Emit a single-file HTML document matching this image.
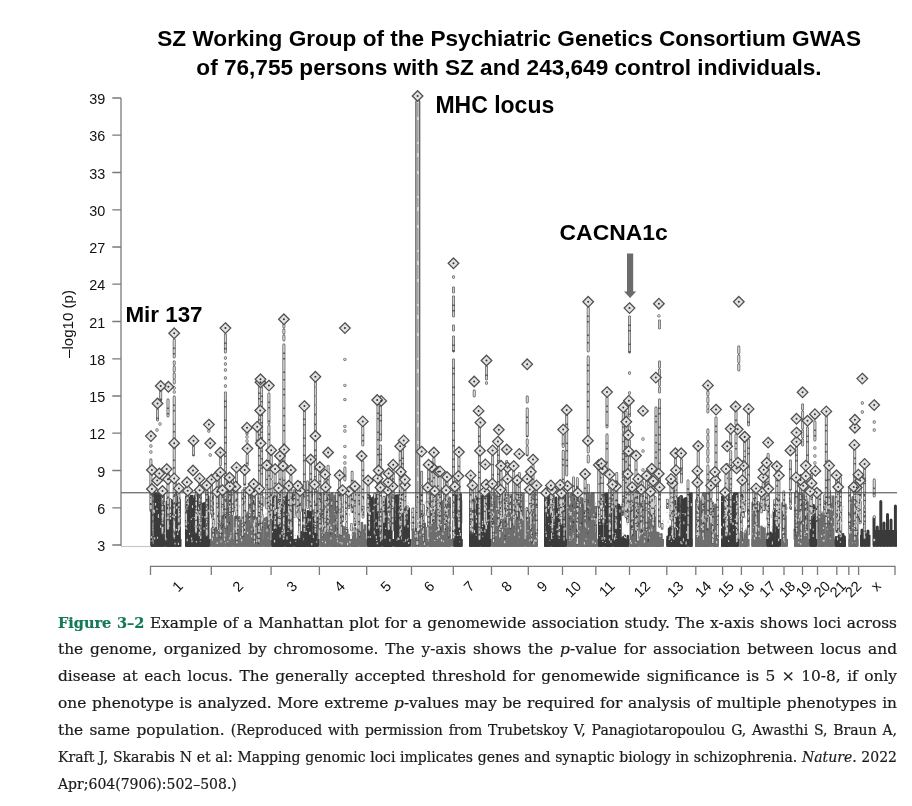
<!DOCTYPE html>
<html lang="en"><head><meta charset="utf-8"><title>Figure 3–2 Manhattan plot</title>
<style>
html,body{margin:0;padding:0;background:#fff}
body{width:912px;height:806px;position:relative;overflow:hidden}
.cap{will-change:transform;position:absolute;left:58px;top:609px;width:839px;font-family:"DejaVu Serif","Liberation Serif",serif;font-size:15.4px;color:#1a1a1a;-webkit-text-stroke:0.2px #1a1a1a}
.cap .l{height:27px;line-height:27px;white-space:nowrap;text-align:justify;text-align-last:justify}
.cap .s{font-size:14px}
.cap .last{text-align:left;text-align-last:left}
.cap b{color:#127a55;font-size:14.5px;-webkit-text-stroke:0.2px #127a55}
</style></head><body>
<svg width="912" height="806" viewBox="0 0 912 806" style="position:absolute;left:0;top:0;will-change:transform">
<path d="M151.7 494.7V545.6M153.2 502.9V545.6M157.4 496.1V545.6M161.9 493.7V545.6M166.9 501.9V545.6M168.4 511V545.6M169.9 501.8V545.6M171.4 500.4V545.6M172.9 501.8V545.6M178.1 497.4V545.6M179.6 500V545.6" stroke="#3a3a3a" stroke-width="2.6" stroke-linecap="round" fill="none"/>
<path d="M150.4 539H181.5V546.8H150.4Z" fill="#3a3a3a"/>
<path d="M186.3 497V545.6M187.8 495.4V545.6M189.3 498.6V545.6M190.8 496V545.6M193.8 498.9V545.6M195.4 495.6V545.6M196.9 493.5V545.6M200.1 506.2V545.6M201.6 504.8V545.6M203.1 503.7V545.6M204.6 503.3V545.6M206.7 500.7V545.6" stroke="#3a3a3a" stroke-width="2.6" stroke-linecap="round" fill="none"/>
<path d="M185 539H210.8V546.8H185Z" fill="#3a3a3a"/>
<path d="M212.1 528.9V545.6M213.6 527.7V545.6M215.1 528.3V545.6M218.1 531.1V545.6M220.3 498.8V545.6M221.8 497V545.6M225.9 498V545.6M227.4 503.8V545.6M230.4 510.1V545.6M231.9 497.1V545.6M234.8 517.4V545.6M236.3 520.5V545.6M237.8 518.5V545.6M239.3 517.4V545.6M240.8 521V545.6M242.3 520.7V545.6M244.5 515.6V545.6M247.5 512.6V545.6M250.7 495.1V545.6M253.7 495.8V545.6M254.8 518.8V545.6M256.3 518V545.6M257.8 518.3V545.6M259.3 518.8V545.6M260.8 520.9V545.6M262.3 515.1V545.6M265 518.8V545.6M266.5 517.7V545.6M268 519.7V545.6" stroke="#6e6e6e" stroke-width="2.6" stroke-linecap="round" fill="none"/>
<path d="M210.8 539H271.3V546.8H210.8Z" fill="#6e6e6e"/>
<path d="M272.6 498.3V545.6M275.6 499.4V545.6M278.9 507.6V545.6M280.4 506V545.6M281.9 505V545.6M283.4 506.2V545.6M292.3 494.3V545.6M296.9 540V545.6M298.4 536.1V545.6M299.9 534.5V545.6M301.4 532.4V545.6M302.9 532.3V545.6M307.9 511.3V545.6M312.4 510.3V545.6M312.8 516.4V545.6M314.3 526.5V545.6M317.3 517.8V545.6" stroke="#3a3a3a" stroke-width="2.6" stroke-linecap="round" fill="none"/>
<path d="M271.3 539H319.6V546.8H271.3Z" fill="#3a3a3a"/>
<path d="M322.4 506.3V545.6M323.9 493.5V545.6M326.2 501.5V545.6M327.7 493.5V545.6M333 497.8V545.6M334.5 495.8V545.6M336 498.2V545.6M338.5 536.9V545.6M340 535.1V545.6M341.5 536.3V545.6M342.8 526.9V545.6M345.8 529V545.6M347.3 529.9V545.6M348.8 535.2V545.6M351.8 540V545.6M353.3 532.9V545.6M354.8 533.2V545.6M356.3 539.6V545.6M360.5 533.1V545.6M362 523V545.6M363.5 530.3V545.6M365 525.6V545.6" stroke="#6e6e6e" stroke-width="2.6" stroke-linecap="round" fill="none"/>
<path d="M319.6 539H366.8V546.8H319.6Z" fill="#6e6e6e"/>
<path d="M368.1 496.3V545.6M369.6 496V545.6M371.1 499.1V545.6M372.6 498.1V545.6M374.1 496.4V545.6M377.2 494.8V545.6M378.7 493.5V545.6M383.8 510.8V545.6M385.3 499.7V545.6M386.8 496.2V545.6M388.3 498.3V545.6M389.8 499.6V545.6M391.3 499.2V545.6M395.3 495.8V545.6M398.3 495.5V545.6M401.3 495.4V545.6M402.8 495.2V545.6M404.3 494.7V545.6M405.7 509.3V545.6M407.2 510.1V545.6" stroke="#3a3a3a" stroke-width="2.6" stroke-linecap="round" fill="none"/>
<path d="M366.8 539H411.6V546.8H366.8Z" fill="#3a3a3a"/>
<path d="M414.4 532.2V545.6M415.9 528.8V545.6M418.9 511.5V545.6M420.4 514.5V545.6M423.2 525.6V545.6M424.7 523.7V545.6M429.6 494.8V545.6M431.1 493.7V545.6M432.6 493.5V545.6M434.1 494.5V545.6M435.6 496.3V545.6M436.6 500.4V545.6M438.1 503.5V545.6M441.1 501.9V545.6M444.1 500.1V545.6M445.2 498.4V545.6M446.7 502.4V545.6M448.2 499.4V545.6" stroke="#6e6e6e" stroke-width="2.6" stroke-linecap="round" fill="none"/>
<path d="M411.6 539H453.3V546.8H411.6Z" fill="#6e6e6e"/>
<path d="M454.6 494.2V545.6M457.6 493.6V545.6M459.1 495.6V545.6" stroke="#3a3a3a" stroke-width="2.6" stroke-linecap="round" fill="none"/>
<path d="M453.3 539H462.8V546.8H453.3Z" fill="#3a3a3a"/>
<path d="M475.8 500.4V545.6M478.8 502V545.6M484.9 493.9V545.6M486.4 494.1V545.6M487.9 493.6V545.6M489.4 494.3V545.6" stroke="#3a3a3a" stroke-width="2.6" stroke-linecap="round" fill="none"/>
<path d="M469 539H491.7V546.8H469Z" fill="#3a3a3a"/>
<path d="M493 494.7V545.6M494.5 493.5V545.6M499 493.6V545.6M500.5 495.9V545.6M504.2 520.1V545.6M507.2 528.3V545.6M508.5 495.3V545.6M510 498V545.6M511.5 495V545.6M513 504.1V545.6M515.9 501V545.6M518.9 496.9V545.6M520.4 496.8V545.6M521.9 498.5V545.6M526.8 508.3V545.6M528.3 520.6V545.6M531.3 508.8V545.6M533.1 493.5V545.6M534.6 493.5V545.6" stroke="#6e6e6e" stroke-width="2.6" stroke-linecap="round" fill="none"/>
<path d="M491.7 539H538V546.8H491.7Z" fill="#6e6e6e"/>
<path d="M545.3 497V545.6M549.8 495.6V545.6M553.1 497V545.6M554.6 498.7V545.6M556.1 497.9V545.6M557.6 509.3V545.6M559.2 496.1V545.6M560.7 494.2V545.6M563.7 498.4V545.6M565.2 494.6V545.6" stroke="#3a3a3a" stroke-width="2.6" stroke-linecap="round" fill="none"/>
<path d="M544 539H567V546.8H544Z" fill="#3a3a3a"/>
<path d="M568.3 493.5V545.6M571.3 493.9V545.6M572.8 493.5V545.6M576.3 502V545.6M577.8 499.8V545.6M582.3 499.1V545.6M583.8 505.4V545.6M585.9 496.1V545.6M590.4 495.5V545.6M591.9 493.7V545.6M593.4 493.5V545.6M595.9 507.1V545.6" stroke="#6e6e6e" stroke-width="2.6" stroke-linecap="round" fill="none"/>
<path d="M567 539H598V546.8H567Z" fill="#6e6e6e"/>
<path d="M599.3 500.1V545.6M600.8 498.7V545.6M602.3 497.6V545.6M605.2 494.3V545.6M614.4 509.5V545.6M618.9 505V545.6M620.4 507.3V545.6M621.8 539.1V545.6M624.8 535.8V545.6" stroke="#3a3a3a" stroke-width="2.6" stroke-linecap="round" fill="none"/>
<path d="M598 539H629.5V546.8H598Z" fill="#3a3a3a"/>
<path d="M630.8 498.5V545.6M632.3 497.8V545.6M633.8 505.6V545.6M635.3 498.3V545.6M636.8 496.2V545.6M638.3 495.7V545.6M641.1 498.3V545.6M642.6 502.6V545.6M644.1 501.1V545.6M645.6 508.6V545.6M647.1 503.1V545.6M647.7 527.4V545.6M652.2 524.6V545.6M655.2 517V545.6M656.9 532.7V545.6M658.4 533V545.6M661.4 534.3V545.6" stroke="#6e6e6e" stroke-width="2.6" stroke-linecap="round" fill="none"/>
<path d="M629.5 539H664V546.8H629.5Z" fill="#6e6e6e"/>
<path d="M669.1 528.8V545.6M670.6 526.9V545.6M672.1 535.9V545.6M675.1 527.6V545.6M676.1 495.5V545.6M679.1 498.1V545.6M680.6 497V545.6M683.1 500V545.6M684.6 498.8V545.6M689.9 493.5V545.6" stroke="#3a3a3a" stroke-width="2.6" stroke-linecap="round" fill="none"/>
<path d="M666.3 539H692.6V546.8H666.3Z" fill="#3a3a3a"/>
<path d="M697.8 500.9V545.6M699.3 498.5V545.6M700.8 502.1V545.6M702.3 500.6V545.6M703.1 493.5V545.6M704.6 493.5V545.6M706.1 493.7V545.6M707.6 494.2V545.6M709.1 493.5V545.6M710.6 495.4V545.6M713.9 508.1V545.6M715.4 504.9V545.6M716.9 505.9V545.6" stroke="#6e6e6e" stroke-width="2.6" stroke-linecap="round" fill="none"/>
<path d="M695 539H719V546.8H695Z" fill="#6e6e6e"/>
<path d="M722.3 496.8V545.6M725.3 497V545.6M727.6 493.5V545.6M729.1 493.5V545.6M734.3 493.6V545.6M735.8 493.5V545.6M737.3 493.5V545.6" stroke="#3a3a3a" stroke-width="2.6" stroke-linecap="round" fill="none"/>
<path d="M721 539H739.5V546.8H721Z" fill="#3a3a3a"/>
<path d="M742.3 533.1V545.6M743.8 540V545.6" stroke="#6e6e6e" stroke-width="2.6" stroke-linecap="round" fill="none"/>
<path d="M739.5 539H749.6V546.8H739.5Z" fill="#6e6e6e"/>
<path d="M752.7 502.9V545.6M754.2 506.5V545.6M755.7 503.5V545.6M757.2 502.3V545.6M758.7 503.5V545.6M761.5 526.8V545.6M764.5 528V545.6" stroke="#6e6e6e" stroke-width="2.6" stroke-linecap="round" fill="none"/>
<path d="M751.4 539H766.3V546.8H751.4Z" fill="#6e6e6e"/>
<path d="M767.6 533.7V545.6M769.1 533.1V545.6M770.6 532.8V545.6M772.1 534.2V545.6M775.4 510V545.6M776.9 507.9V545.6M778.4 509.5V545.6" stroke="#3a3a3a" stroke-width="2.6" stroke-linecap="round" fill="none"/>
<path d="M766.3 539H781.2V546.8H766.3Z" fill="#3a3a3a"/>
<path d="M782.5 503.4V545.6M784 505.1V545.6M785.5 504.7V545.6" stroke="#6e6e6e" stroke-width="2.6" stroke-linecap="round" fill="none"/>
<path d="M781.2 539H788V546.8H781.2Z" fill="#6e6e6e"/>
<path d="M796.8 493.5V545.6M798.3 493.5V545.6M799.8 493.5V545.6M801.3 493.5V545.6M802.9 494.2V545.6M805.9 498.3V545.6M807.4 502.3V545.6" stroke="#6e6e6e" stroke-width="2.6" stroke-linecap="round" fill="none"/>
<path d="M794 539H809V546.8H794Z" fill="#6e6e6e"/>
<path d="M812.1 513.9V545.6M813.6 505.2V545.6" stroke="#3a3a3a" stroke-width="2.6" stroke-linecap="round" fill="none"/>
<path d="M809.3 539H817.2V546.8H809.3Z" fill="#3a3a3a"/>
<path d="M818.5 515.1V545.6M821.5 512.6V545.6M823 516V545.6M830.2 495.5V545.6M831.7 504.5V545.6M833.2 496.6V545.6" stroke="#6e6e6e" stroke-width="2.6" stroke-linecap="round" fill="none"/>
<path d="M817.2 539H834.7V546.8H817.2Z" fill="#6e6e6e"/>
<path d="M836 537.4V545.6M839 535.3V545.6M840.5 535.6V545.6M842 538V545.6M843.1 534.3V545.6M844.6 536.8V545.6" stroke="#3a3a3a" stroke-width="2.6" stroke-linecap="round" fill="none"/>
<path d="M834.7 539H846V546.8H834.7Z" fill="#3a3a3a"/>
<path d="M849.7 497.7V545.6M851.2 500.6V545.6M852.7 497.4V545.6M855.7 496.4V545.6" stroke="#6e6e6e" stroke-width="2.6" stroke-linecap="round" fill="none"/>
<path d="M848.4 539H858.5V546.8H848.4Z" fill="#6e6e6e"/>
<path d="M874 518V545.3M877.3 527V545.3M880.8 501.5V545.3M884 523V545.3M887.5 514.5V545.3M891 520V545.3M895.4 506V545.3M862 530V545.3M865 534V545.3M868 531V545.3" stroke="#3a3a3a" stroke-width="3" stroke-linecap="round" fill="none"/>
<path d="M860 535H870.5V546.8H860ZM873 530H897V546.8H873Z" fill="#3a3a3a"/>
<path d="M153.3 487.7V541.6M153.6 520.1V543.5M159.1 492V512.7M163.6 502.2V538.3M170.3 499.7V518.7M175.6 479.6V534.7M175.9 511.4V536.6M186.2 499V526.2M191.9 498.1V534.1M196.3 492.9V530.7M195.9 512V532.6M200.5 489.4V538.7M207.2 491.3V524.9M212.7 496.1V517.8M213.2 519.1V536.1M218.8 479.9V525.3M222.4 486.4V537M222.9 508.6V536.1M228.5 478V528.9M232.6 476.8V514.4M236.9 490.7V543M242.8 490.8V533.6M242.5 522.8V535.9M249.7 491.8V527.1M254.4 490.1V543.7M258.9 488.8V542.2M263 497.5V505.3M269.5 490.9V523.2M272.8 509.1V519.6M279 488.2V518.8M283.8 477.6V536.1M283.6 509.7V538.7M287.8 495.1V543.2M294.5 490.5V516.5M299.9 482.3V509.9M299.4 511.3V538.6M303.7 495.3V531.1M303.2 526.7V540M307.6 481.9V507.4M311.5 483.5V535.1M316.5 490.8V542.3M322.2 503.8V535.2M322.1 507.7V517M326.4 489.2V520.5M326.6 521V529.3M330.9 498.9V507.4M330.5 512.6V534M336.7 493.2V535.5M336.5 512.3V527M341.1 509.3V534.6M346.3 494.6V531.2M352.1 472.2V511.5M351.6 524.3V530M358.9 486.9V536.9M363 506.5V517.2M369.3 507V528.1M374.7 494V534.6M379.3 503.9V527.7M383.9 497.2V522.1M389.7 476.9V526.2M396.2 503.8V519.5M401 491V539M400.9 509.7V525.9M407.5 506.8V521.3M412.8 508.9V530.1M417.1 496V544.9M423.2 507.1V542.3M423.5 505.7V514.9M428.9 489.4V516.5M434.3 487.1V521.5M440.5 488V529.7M440 509.8V532.3M444.7 479.9V528.7M449.4 500.2V510M449.1 514.7V536.6M456.1 481.7V529.1M460.9 500.7V523M470.9 478.9V511.8M471 518.6V539.2M476.2 487.9V519.4M476.6 516.9V524.8M482.3 500V532.2M486.2 495.5V528.5M493.5 488.5V541.4M499.9 496.1V537.2M505.2 494.8V541.6M510.2 495.8V512M510.4 520.2V527.8M515.2 484.2V533.3M520.9 493V518.4M527.4 509.5V518.9M531.6 496.5V519.9M531.6 507.2V542.2M546.4 497.6V531.5M553.5 495.7V521.5M559.4 489.5V511.9M559.2 522.7V538M563.8 492.2V540M569.6 497.9V543.5M573.5 477.8V527.3M577.3 478.5V521.1M577.4 522.9V543.6M581.2 498.2V528.6M588.3 485.1V519.9M588.7 509.6V532.7M595.4 509.1V529.1M595.3 514.2V532M599.5 505.7V521.2M603.5 496.4V523.3M603.2 506V524.4M609.8 509.5V539.2M616.8 473.3V523.9M622.9 504.2V514.2M631.7 506.5V533.6M637.7 478V540.6M637.8 521.5V531.8M642.8 482.6V531.4M642.4 526.6V533.2M648.3 477V540.5M655.1 497.3V516M662.1 524.4V528.4M667.3 500.1V507.7M674.4 488.4V537.7M674.8 514.3V537M680.7 496.7V528.6M680.2 513.9V535.7M688 480.8V524.4M697.7 489.5V524M703 496.3V536.3M712.8 503V542.5M717.5 472.4V537.4M717.6 517.5V526.7M723.9 491.8V538.8M723.7 524.8V540.6M730.5 487V532.2M736.8 495.9V541.5M736.9 510.1V540.6M741.3 487.4V540.4M748.6 510.7V533.9M753.8 490.4V510.5M758.2 502.6V510.7M768.5 497.3V532.6M774.5 500.6V531.7M774 526.6V541.1M783.8 491.8V527.6M783.6 520.3V538.3M795.3 496.7V538M795 529.5V539.1M801.2 495.5V538.5M806 499.3V535.7M806.5 520.7V531.9M811.5 474.4V510.2M819.8 490.9V532M824.7 495.5V521.6M829.5 491.3V535.1M829.4 522.7V530.1M836.6 503.5V531.5M840.5 478V536.4M840.8 506.3V536.4M849.5 487.5V524.9M849.3 527.8V532.6M854.9 496.5V543.6" stroke="#4c4c4c" stroke-width="2.7" stroke-linecap="round" fill="none"/>
<path d="M153.3 487.7V541.6M153.6 520.1V543.5M159.1 492V512.7M163.6 502.2V538.3M170.3 499.7V518.7M175.6 479.6V534.7M175.9 511.4V536.6M186.2 499V526.2M191.9 498.1V534.1M196.3 492.9V530.7M195.9 512V532.6M200.5 489.4V538.7M207.2 491.3V524.9M212.7 496.1V517.8M213.2 519.1V536.1M218.8 479.9V525.3M222.4 486.4V537M222.9 508.6V536.1M228.5 478V528.9M232.6 476.8V514.4M236.9 490.7V543M242.8 490.8V533.6M242.5 522.8V535.9M249.7 491.8V527.1M254.4 490.1V543.7M258.9 488.8V542.2M263 497.5V505.3M269.5 490.9V523.2M272.8 509.1V519.6M279 488.2V518.8M283.8 477.6V536.1M283.6 509.7V538.7M287.8 495.1V543.2M294.5 490.5V516.5M299.9 482.3V509.9M299.4 511.3V538.6M303.7 495.3V531.1M303.2 526.7V540M307.6 481.9V507.4M311.5 483.5V535.1M316.5 490.8V542.3M322.2 503.8V535.2M322.1 507.7V517M326.4 489.2V520.5M326.6 521V529.3M330.9 498.9V507.4M330.5 512.6V534M336.7 493.2V535.5M336.5 512.3V527M341.1 509.3V534.6M346.3 494.6V531.2M352.1 472.2V511.5M351.6 524.3V530M358.9 486.9V536.9M363 506.5V517.2M369.3 507V528.1M374.7 494V534.6M379.3 503.9V527.7M383.9 497.2V522.1M389.7 476.9V526.2M396.2 503.8V519.5M401 491V539M400.9 509.7V525.9M407.5 506.8V521.3M412.8 508.9V530.1M417.1 496V544.9M423.2 507.1V542.3M423.5 505.7V514.9M428.9 489.4V516.5M434.3 487.1V521.5M440.5 488V529.7M440 509.8V532.3M444.7 479.9V528.7M449.4 500.2V510M449.1 514.7V536.6M456.1 481.7V529.1M460.9 500.7V523M470.9 478.9V511.8M471 518.6V539.2M476.2 487.9V519.4M476.6 516.9V524.8M482.3 500V532.2M486.2 495.5V528.5M493.5 488.5V541.4M499.9 496.1V537.2M505.2 494.8V541.6M510.2 495.8V512M510.4 520.2V527.8M515.2 484.2V533.3M520.9 493V518.4M527.4 509.5V518.9M531.6 496.5V519.9M531.6 507.2V542.2M546.4 497.6V531.5M553.5 495.7V521.5M559.4 489.5V511.9M559.2 522.7V538M563.8 492.2V540M569.6 497.9V543.5M573.5 477.8V527.3M577.3 478.5V521.1M577.4 522.9V543.6M581.2 498.2V528.6M588.3 485.1V519.9M588.7 509.6V532.7M595.4 509.1V529.1M595.3 514.2V532M599.5 505.7V521.2M603.5 496.4V523.3M603.2 506V524.4M609.8 509.5V539.2M616.8 473.3V523.9M622.9 504.2V514.2M631.7 506.5V533.6M637.7 478V540.6M637.8 521.5V531.8M642.8 482.6V531.4M642.4 526.6V533.2M648.3 477V540.5M655.1 497.3V516M662.1 524.4V528.4M667.3 500.1V507.7M674.4 488.4V537.7M674.8 514.3V537M680.7 496.7V528.6M680.2 513.9V535.7M688 480.8V524.4M697.7 489.5V524M703 496.3V536.3M712.8 503V542.5M717.5 472.4V537.4M717.6 517.5V526.7M723.9 491.8V538.8M723.7 524.8V540.6M730.5 487V532.2M736.8 495.9V541.5M736.9 510.1V540.6M741.3 487.4V540.4M748.6 510.7V533.9M753.8 490.4V510.5M758.2 502.6V510.7M768.5 497.3V532.6M774.5 500.6V531.7M774 526.6V541.1M783.8 491.8V527.6M783.6 520.3V538.3M795.3 496.7V538M795 529.5V539.1M801.2 495.5V538.5M806 499.3V535.7M806.5 520.7V531.9M811.5 474.4V510.2M819.8 490.9V532M824.7 495.5V521.6M829.5 491.3V535.1M829.4 522.7V530.1M836.6 503.5V531.5M840.5 478V536.4M840.8 506.3V536.4M849.5 487.5V524.9M849.3 527.8V532.6M854.9 496.5V543.6" stroke="#d6d6d6" stroke-width="1.5" stroke-linecap="round" stroke-dasharray="7 2.5 3 2.5 11 2.5 5 2.5" fill="none"/>
<path d="M154.7 493.5V545.6M156.2 493.5V545.6M158.9 493.5V545.6M160.4 493.5V545.6M163.4 493.5V545.6M174.4 514.5V545.6M176.6 504.1V545.6" stroke="#3a3a3a" stroke-width="2.6" stroke-linecap="round" fill="none"/>
<path d="M192.3 496.1V545.6M198.4 496V545.6M206.1 505.6V545.6M208.2 496.5V545.6" stroke="#3a3a3a" stroke-width="2.6" stroke-linecap="round" fill="none"/>
<path d="M216.6 530.3V545.6M218.8 498.2V545.6M223.3 497.5V545.6M228.9 495.6V545.6M246 515.3V545.6M249.2 495.4V545.6M252.2 497.8V545.6M269.5 518.1V545.6" stroke="#6e6e6e" stroke-width="2.6" stroke-linecap="round" fill="none"/>
<path d="M274.1 496.8V545.6M277.1 496.9V545.6M286.3 496.9V545.6M287.8 493.5V545.6M289.3 493.5V545.6M290.8 496.5V545.6M295.4 540V545.6M303.4 509.8V545.6M304.9 510.1V545.6M306.4 518V545.6M309.4 512.1V545.6M310.9 511.5V545.6M315.8 527.6V545.6" stroke="#3a3a3a" stroke-width="2.6" stroke-linecap="round" fill="none"/>
<path d="M320.9 493.5V545.6M329.2 494.5V545.6M330.7 494.8V545.6M332.2 493.5V545.6M337.5 508.6V545.6M344.3 527.6V545.6M357.8 529.7V545.6" stroke="#6e6e6e" stroke-width="2.6" stroke-linecap="round" fill="none"/>
<path d="M375.6 499V545.6M380.2 494.9V545.6M396.8 495.6V545.6M399.8 496.2V545.6M408.7 508.2V545.6" stroke="#3a3a3a" stroke-width="2.6" stroke-linecap="round" fill="none"/>
<path d="M412.9 529.5V545.6M421.9 513.5V545.6M426.2 528.4V545.6M439.6 503.2V545.6M442.6 501.5V545.6M449.7 497.7V545.6" stroke="#6e6e6e" stroke-width="2.6" stroke-linecap="round" fill="none"/>
<path d="M456.1 495.9V545.6M460.6 494.3V545.6" stroke="#3a3a3a" stroke-width="2.6" stroke-linecap="round" fill="none"/>
<path d="M470.3 501.7V545.6M471.8 498.2V545.6M473.3 498.6V545.6M474.3 510.2V545.6M477.3 498.4V545.6M481.9 496.2V545.6M483.4 493.5V545.6" stroke="#3a3a3a" stroke-width="2.6" stroke-linecap="round" fill="none"/>
<path d="M496 495.5V545.6M497.5 495.5V545.6M502 493.5V545.6M502.7 519.3V545.6M505.7 519.2V545.6M514.5 511.3V545.6M517.4 496V545.6M523.4 493.8V545.6M529.8 510.6V545.6M536.1 503.6V545.6" stroke="#6e6e6e" stroke-width="2.6" stroke-linecap="round" fill="none"/>
<path d="M546.8 506.8V545.6M548.3 496.9V545.6M562.2 496.5V545.6" stroke="#3a3a3a" stroke-width="2.6" stroke-linecap="round" fill="none"/>
<path d="M569.8 505.8V545.6M574.3 493.5V545.6M579.3 502.5V545.6M580.8 498.7V545.6M585.3 502.7V545.6M587.4 494.4V545.6M588.9 493.5V545.6M594.4 507.5V545.6" stroke="#6e6e6e" stroke-width="2.6" stroke-linecap="round" fill="none"/>
<path d="M606.7 493.5V545.6M608.2 500.1V545.6M609.7 493.8V545.6M611.2 493.5V545.6M615.9 505V545.6M617.4 504.6V545.6M623.3 537.3V545.6M626.3 540V545.6M627.8 536V545.6" stroke="#3a3a3a" stroke-width="2.6" stroke-linecap="round" fill="none"/>
<path d="M649.2 517.9V545.6M650.7 514.1V545.6M653.7 514V545.6M659.9 535.1V545.6" stroke="#6e6e6e" stroke-width="2.6" stroke-linecap="round" fill="none"/>
<path d="M667.6 536.7V545.6M673.6 528.2V545.6M677.6 498.9V545.6M681.6 496.2V545.6M686.1 498.2V545.6M691.4 493.5V545.6" stroke="#3a3a3a" stroke-width="2.6" stroke-linecap="round" fill="none"/>
<path d="M696.3 500.4V545.6" stroke="#6e6e6e" stroke-width="2.6" stroke-linecap="round" fill="none"/>
<path d="M723.8 496.9V545.6M726.8 493.5V545.6M730.6 493.5V545.6M732.8 496.4V545.6" stroke="#3a3a3a" stroke-width="2.6" stroke-linecap="round" fill="none"/>
<path d="M740.8 533.1V545.6M745.3 531.5V545.6M746.8 529V545.6" stroke="#6e6e6e" stroke-width="2.6" stroke-linecap="round" fill="none"/>
<path d="M763 528.2V545.6" stroke="#6e6e6e" stroke-width="2.6" stroke-linecap="round" fill="none"/>
<path d="M773.9 510.9V545.6" stroke="#3a3a3a" stroke-width="2.6" stroke-linecap="round" fill="none"/>
<path d="" stroke="#6e6e6e" stroke-width="2.6" stroke-linecap="round" fill="none"/>
<path d="M795.3 493.5V545.6M804.4 496.4V545.6" stroke="#6e6e6e" stroke-width="2.6" stroke-linecap="round" fill="none"/>
<path d="M810.6 504.4V545.6M815.1 507.5V545.6" stroke="#3a3a3a" stroke-width="2.6" stroke-linecap="round" fill="none"/>
<path d="M820 515.5V545.6M824.5 514V545.6M827.2 494.5V545.6M828.7 494.1V545.6" stroke="#6e6e6e" stroke-width="2.6" stroke-linecap="round" fill="none"/>
<path d="M837.5 537.6V545.6" stroke="#3a3a3a" stroke-width="2.6" stroke-linecap="round" fill="none"/>
<path d="M854.2 498.1V545.6M857.2 499.8V545.6" stroke="#6e6e6e" stroke-width="2.6" stroke-linecap="round" fill="none"/>
<path d="M160 424h0M157 430h0M150.9 446h0M150.9 452h0M208.9 431h0M247 433.5h0M247 437h0M247 441h0M210.2 455h0M225.4 358h0M225.4 364h0M225.4 370h0M225.4 378h0M225.4 386h0M344.9 359.3h0M344.9 385.3h0M344.9 399.6h0M344.9 426.3h0M344.9 431h0M344.9 446.3h0M344.9 457h0M344.9 463h0M453.5 277h0M486.5 383h0M629.5 373h0M629.5 393h0M658.9 315.8h0M643 439h0M643 451h0M643 470h0M862.3 403h0M862.3 412h0M874.2 422h0M874.2 430h0M814.9 448h0M814.9 456h0M814.9 463h0M874.2 517h0M874.2 540h0M174.2 388h0M174.2 392h0" stroke="#606060" stroke-width="3.3" stroke-linecap="round" fill="none"/>
<path d="M160 424h0M157 430h0M150.9 446h0M150.9 452h0M208.9 431h0M247 433.5h0M247 437h0M247 441h0M210.2 455h0M225.4 358h0M225.4 364h0M225.4 370h0M225.4 378h0M225.4 386h0M344.9 359.3h0M344.9 385.3h0M344.9 399.6h0M344.9 426.3h0M344.9 431h0M344.9 446.3h0M344.9 457h0M344.9 463h0M453.5 277h0M486.5 383h0M629.5 373h0M629.5 393h0M658.9 315.8h0M643 439h0M643 451h0M643 470h0M862.3 403h0M862.3 412h0M874.2 422h0M874.2 430h0M814.9 448h0M814.9 456h0M814.9 463h0M874.2 517h0M874.2 540h0M174.2 388h0M174.2 392h0" stroke="#d6d6d6" stroke-width="1.9" stroke-linecap="round" fill="none"/>
<path d="M174.2 340V357M174.2 362V364M174.2 367V371M174.2 374V378M174.2 380V383M174.2 397V536.8M225.4 335V352M225.4 393V527.6M283.9 325V327M283.9 330V333M283.9 336V340M283.9 345V516M160.7 391V400M168 400V416M168 470V528.8M157.5 410V420M150.9 460V510.5M259.4 385V514M261.6 388V527.9M268.9 394V423M268.9 426V527.2M247.2 455V465M257.2 432V445M193.5 447V455M304.4 411V531M315.4 382V386M315.4 388V395M315.4 397V404M315.4 406V414M315.4 416V424M315.4 426V430M315.4 442V531.9M344.9 468V480M378 405V511.4M380.6 407V440M380.6 446V536.8M362.8 427V445M362.8 462V511.9M402.6 450V513.3M453.5 288V292M453.5 297V316M453.5 326V330M453.5 337V351M453.5 360V538.7M588.2 308V351M588.2 357V435M588.2 447V452M588.2 456V462M486.5 367V379M527.2 397V402M527.2 409V436M527.2 440V444M527.2 447V455M474.2 391V396M479.4 428V539.1M498.4 447V525.8M566.7 416V475M629.5 317V352M629.5 406V416M629.5 427V430M629.5 441V446M629.5 457V510.1M626 412V516.7M659.5 321V328M659.5 362V367M659.5 370V376M659.5 379V385M659.5 388V392M659.5 400V526.2M656 408V470M738.8 347V353M738.8 356V362M738.8 365V370M736 412V424M736 435V458M607 398V427M607 435V475M707.9 392V395M707.9 398V402M707.9 405V408M707.9 410V412M707.9 430V433M707.9 436V440M707.9 443V447M707.9 450V455M707.9 458V462M707.9 466V529M716 418V470M748.5 414V425M748.5 440V526.4M854.7 450V539.8M874.2 480V496M802.6 405V409M802.6 412V418M802.6 421V428M802.6 431V437M802.6 440V445M826.3 417V525.9M814.9 422V440M796.5 447V535.2M807.5 428V465M681.5 460V482M220.4 458.5V464.8M220.4 472.5V493.9M220.4 495.6V514M220.4 514V523.5M220.4 525.1V536.6M271.2 456.2V478.1M271.2 480.6V494.8M271.2 496.7V514.6M271.2 514.6V518.5M280 462V471.1M280 471.1V492.9M280 492.9V510.3M280 510.3V526M266.7 471.3V486.9M266.7 490.1V502M266.7 502V507.9M275.1 475.1V487.8M275.1 487.8V500.9M275.1 500.9V513.9M275.1 516.8V527M290.9 476V495.8M290.9 497.4V519M290.9 522.2V531.1M288.8 491.8V512.5M288.8 512.5V522M288.8 522V526.9M278.6 494.1V516.1M278.6 519.5V523.8M297.9 491.8V508.3M297.9 511.4V517.1M162.5 497V513.1M162.5 513.1V523.6M162.5 527.2V533.2M178.9 494.4V505.8M178.9 508.9V522.8M178.9 526V528.2M187 488.3V504.1M187 504.1V508.7M187.7 496.7V503.9M187.7 503.9V505.2M199.6 484.4V503M199.6 505.9V510.9M199.6 513.9V522.3M199.6 496.2V505.5M199.6 508.1V522.1M199.6 522.1V528.6M199.6 532.5V535.3M206.7 491.3V508.5M206.7 510.1V527.9M206.7 527.9V535.4M211.6 485.6V494.7M211.6 494.7V501.9M211.6 501.9V513.5M220.4 478.3V484.4M220.4 488V494.4M220.4 494.4V506.1M220.4 506.1V524.1M217.2 481.8V488.6M217.2 488.6V509.5M217.2 509.5V521.9M217.2 521.9V529.9M229.5 483.5V501.3M229.5 503.4V509.5M236.5 473.4V483.4M236.5 485.9V498.7M236.5 502.3V517M236.5 519.8V535.6M244.7 476V484.4M244.7 488.1V502.4M244.7 502.4V521.8M244.7 524.3V530.1M244.7 530.1V532.2M235.6 492.7V506.9M235.6 506.9V511.1M229.8 492.3V504M229.8 504V514.9M222.5 496.2V508.6M222.5 508.6V517.5M217.2 497.9V518.8M217.2 518.8V526.5M253.7 490V502.8M253.7 502.8V516.3M254 497.6V503.7M254 503.7V505.3M249.6 496.2V504.6M249.6 508.5V519.5M328.1 466.1V486M328.1 486V491.3M328.1 491.3V508.8M328.1 510.9V528.1M328.1 528.1V529M310.7 465.5V483.7M310.7 483.7V497.5M310.7 497.5V505.9M310.7 507.5V510.2M319.8 473V485.5M319.8 485.5V505.3M319.8 505.3V512.5M319.8 515.2V528.3M325.1 480.4V497.4M325.1 497.4V507.7M325.1 510.6V519.2M325.1 519.2V531.3M325.6 493.2V500.9M325.6 504V515.8M300.2 497V507.7M300.2 507.7V511.1M339.6 481.3V497.5M339.6 497.5V503.7M339.6 503.7V509M339.6 509V511.9M368.1 486.5V496.3M368.1 499.2V511.6M354.9 492.3V510.3M354.9 510.3V525.1M354.9 528.1V530.3M348.8 497.6V507.7M342.6 496.2V506.8M342.6 508.6V520.9M388.6 479.5V492.2M388.6 492.2V499.2M388.6 501.6V507.2M388.6 510.2V522.2M388.6 522.2V528.9M393.2 470.7V488.1M393.2 488.1V499.2M393.2 499.2V505.7M400.9 477.8V488M400.9 489.7V498.8M400.9 501V515.2M400.9 517.3V531.9M400.2 452.3V462.1M400.2 462.1V482.6M400.2 482.6V491.6M400.2 493.4V499.3M400.2 499.3V516.2M400.2 519.6V526.1M400.2 529.7V536.3M404.9 485.6V492.5M404.9 492.5V499.5M404.9 499.5V508.2M404.9 511.7V525.4M404.9 525.4V525.6M404.9 491.3V500M404.9 500V507.9M392.6 492.3V507.4M392.6 509.7V530.1M387.9 496.2V506.1M388.2 488.3V506.9M388.2 506.9V510.5M421.6 472.3V478.3M421.6 478.3V484.2M421.6 486.7V502.8M421.6 502.8V517.7M421.6 517.7V527.6M433.9 458.5V467.9M433.9 469.5V482.5M433.9 482.5V490.3M433.9 493.4V514.3M433.9 514.3V521.4M428.6 470.7V486.5M428.6 489.9V508.5M428.6 508.5V526.6M431.8 473V492.9M431.8 492.9V513.8M431.8 513.8V519.6M431.8 519.6V523.5M438.2 477.8V488.6M438.2 492.5V501.4M438.2 501.4V519.8M438.2 519.8V530.5M447 483V493.1M447 493.1V514.3M447 514.3V515.1M427.7 493.5V501M427.7 501V507.4M427.7 510.1V514.9M434.7 497V511.2M446.1 496.2V505.3M446.1 508.4V519.8M446.1 519.8V522.8M563.2 435.6V446.6M563.2 451.2V471.1M563.2 471.1V490.6M563.2 490.6V502.3M563.2 505.9V510.5M458.9 458.1V475.6M458.9 475.6V493.1M458.9 493.1V509.4M458.9 512.8V522.1M458.9 522.1V526.7M492.6 456.4V466.6M492.6 466.6V487.5M492.6 490.7V504.1M492.6 504.1V509.4M492.6 509.4V514.8M506.7 461.5V474.3M506.7 474.3V479.5M506.7 479.5V489.1M506.7 492.9V506.5M506.7 506.5V514.5M506.7 514.5V515.3M519.3 473.4V489.3M519.3 489.3V510.8M533 465.6V484.8M533 484.8V490.6M533 490.6V510.8M533 514.3V515.7M501 471.8V492.2M501 492.2V513.7M501 513.7V524.9M501 524.9V527.5M507.5 473.4V489M507.5 489V500.8M507.5 500.8V512M507.5 515.4V520.7M513.7 472.1V485.6M513.7 485.6V493.3M513.7 493.3V499.1M513.7 501.9V518.2M513.7 518.2V525.6M530.9 477.8V489.5M530.9 489.5V509M530.9 511.6V516.8M530.9 516.8V528.7M458.4 482.1V503.8M458.4 503.8V516.9M470.7 481.4V500.6M470.7 500.6V521.4M470.7 523.3V532.3M507.5 484.9V496.8M507.5 496.8V508.9M517.2 486.2V499.7M517.2 503.4V518.2M585.1 480V500.8M585.1 502.8V518.7M598.8 470.9V476M598.8 476V485M598.8 485V493.6M598.8 493.6V507.2M472.5 491.4V498.7M472.5 502.3V511.3M472.5 513.5V519.1M472.5 519.1V533.1M492.3 489.7V509.6M492.3 513.3V526.4M500.5 495.8V509.5M500.5 509.5V525M484.7 497.6V517.7M484.7 519.3V523.8M529.8 495.5V508.3M529.8 508.3V512.2M536.5 491.4V506.4M536.5 506.4V512M536.5 512V524.9M536.5 524.9V534.9M536.5 534.9V537.2M546.1 499V512.6M550.9 491.4V513M550.9 513V514.3M552.3 495.8V505.4M552.3 509.2V518.9M552.3 520.7V531.8M560.2 490.9V507.2M560.2 507.2V513.2M560.2 516V518.5M561.4 499.3V511.6M561.4 511.6V524M577.7 499V511.3M440 477.4V483.7M440 483.7V489M440 489V507.4M440 507.4V525.6M440 528.9V530.1M623.3 413.4V431M623.3 433.4V445.5M623.3 445.5V463.2M623.3 463.2V478.8M623.3 481.2V488M623.3 488V504.8M623.3 504.8V505.8M636 461.6V472.4M636 472.4V483.6M636 483.6V496.9M636 499.2V509.6M636 509.6V530.5M730.7 434.8V444.1M730.7 451.6V470.5M730.7 470.5V487.8M730.7 491.5V504M730.7 505.7V522.4M744.7 442.8V461.6M744.7 465.1V473.5M744.7 473.5V493.1M744.7 496V505.9M727.2 464.5V485.5M727.2 485.5V506.2M727.2 506.2V526.7M727.2 526.7V534.8M698.2 452V459.9M698.2 459.9V481.7M698.2 481.7V501.7M698.2 501.7V508.7M698.2 508.7V520.2M698.2 520.2V533.4M675.4 459.3V473.9M675.4 477.3V493.3M675.4 497.1V505.2M601.4 469.5V490.5M601.4 490.5V508.7M601.4 511.6V518.3M602.6 475.1V488.1M602.6 488.1V506.4M609.6 480.4V487M609.6 489.9V505.3M609.6 508.1V529.4M609.6 533.1V534.1M612.5 490.6V505.1M612.5 505.1V507.8M616 492.3V508.5M616 508.5V521.3M616 521.3V528.3M627.7 480V499.2M627.7 502.5V520M627.7 520V521.7M638.2 484.9V498.7M638.2 498.7V505.2M632.1 493.2V499.7M632.1 502V512M632.1 512V526.8M632.1 528.8V535.1M641.2 495.5V504.1M641.2 508.1V528.8M641.2 528.8V530.3M646.5 481.8V488.2M646.5 489.8V507.2M646.5 507.2V514.5M646.5 514.5V529.8M651.8 474.8V484.1M651.8 487.6V507M651.8 509.5V514.7M653.2 487V500M653.2 500V517.9M653.2 517.9V526.6M650.5 497.6V505.4M676 476.2V495.1M676 498.5V507.6M676 509.3V516.8M671 484.9V495.6M671 497.4V510.2M671 511.9V519M672.5 489.3V503.1M672.5 503.1V518.9M672.5 518.9V527.6M672.5 527.6V535.7M697.4 476.9V483.9M697.4 483.9V499.3M697.4 499.3V507.1M697.4 507.1V517M697.4 488.5V495.1M697.4 495.1V511M697.4 511V527.1M697.4 527.1V534.5M697.4 536.2V536.7M711 491.4V497.6M711 500.5V517.8M711 517.8V522.7M726 475.1V487.8M726 487.8V497.1M726 500.3V508.3M726 508.3V528.2M726 528.2V535.4M725.1 498.5V516.8M743.5 471.8V482.5M743.5 482.5V501.9M743.5 503.6V516.6M742.3 486.2V495.7M742.3 498.4V515.3M790.4 461V470.5M790.4 470.5V481.6M790.4 481.6V489.6M790.4 492.9V504.2M790.4 507.4V507.9M744.7 443V460.9M744.7 464.1V484.1M744.7 484.1V493.2M744.7 493.2V502.7M744.7 504.4V510.5M768.1 454.4V467.7M768.1 467.7V488.4M768.1 488.4V494.5M768.1 496.6V509.2M768.1 511.5V517.5M768.1 517.5V520.6M864.6 469.9V490.7M864.6 492.3V504.7M864.6 507.5V521.2M864.6 522.9V536M864.6 536V538M766.7 468.8V487.5M766.7 487.5V494.2M766.7 497.7V503.8M766.7 503.8V509.3M776.8 472.3V491.1M776.8 491.1V507M776.8 507V512.6M776.8 512.6V525.7M763.7 475.8V487M763.7 490.7V501.2M763.7 504.8V509.6M778.9 481.6V486.9M778.9 486.9V504.2M778.9 504.2V523.6M778.9 527.6V528.1M763.2 483.4V489.5M763.2 491.4V502.6M763.2 502.6V508.7M805.8 471.6V488M805.8 491.8V500.1M805.8 500.1V510.3M805.8 510.3V519.9M805.8 519.9V529.5M805.8 482.1V499.2M805.8 499.2V517.2M800.5 486V504.8M800.5 504.8V510.1M811.6 489.2V498.6M811.6 498.6V508.3M811.6 508.3V517.8M829.1 471.6V482.1M829.1 482.1V489.9M829.1 489.9V496.3M829.1 496.3V509.5M836.5 481.3V488.9M836.5 488.9V510.3M836.5 510.3V512.4M838.2 493V514.4M838.2 514.4V520.6M838.2 520.6V528.6M838.2 530.3V532M810.2 497.4V512.3M810.2 512.3V525.8M810.2 525.8V528.3M816.8 498.8V511.2M816.8 511.2V520.5M768.4 494.8V510.7M768.4 510.7V532M768.4 535.6V536.6M761.4 497.9V508.5M761.4 508.5V512M756.1 494.4V514.5M756.1 514.5V525M756.1 525V536.5M860.2 486.5V498.3M860.2 501.7V513M860.2 513V522.9M858.4 480.7V502.7M858.4 502.7V517M856.7 493.5V509M856.7 509V522M856.7 522V532.6M856.7 532.6V534.2" stroke="#555" stroke-width="2.9" stroke-linecap="round" fill="none"/>
<path d="M174.2 340V357M174.2 362V364M174.2 367V371M174.2 374V378M174.2 380V383M174.2 397V536.8M225.4 335V352M225.4 393V527.6M283.9 325V327M283.9 330V333M283.9 336V340M283.9 345V516M160.7 391V400M168 400V416M168 470V528.8M157.5 410V420M150.9 460V510.5M259.4 385V514M261.6 388V527.9M268.9 394V423M268.9 426V527.2M247.2 455V465M257.2 432V445M193.5 447V455M304.4 411V531M315.4 382V386M315.4 388V395M315.4 397V404M315.4 406V414M315.4 416V424M315.4 426V430M315.4 442V531.9M344.9 468V480M378 405V511.4M380.6 407V440M380.6 446V536.8M362.8 427V445M362.8 462V511.9M402.6 450V513.3M453.5 288V292M453.5 297V316M453.5 326V330M453.5 337V351M453.5 360V538.7M588.2 308V351M588.2 357V435M588.2 447V452M588.2 456V462M486.5 367V379M527.2 397V402M527.2 409V436M527.2 440V444M527.2 447V455M474.2 391V396M479.4 428V539.1M498.4 447V525.8M566.7 416V475M629.5 317V352M629.5 406V416M629.5 427V430M629.5 441V446M629.5 457V510.1M626 412V516.7M659.5 321V328M659.5 362V367M659.5 370V376M659.5 379V385M659.5 388V392M659.5 400V526.2M656 408V470M738.8 347V353M738.8 356V362M738.8 365V370M736 412V424M736 435V458M607 398V427M607 435V475M707.9 392V395M707.9 398V402M707.9 405V408M707.9 410V412M707.9 430V433M707.9 436V440M707.9 443V447M707.9 450V455M707.9 458V462M707.9 466V529M716 418V470M748.5 414V425M748.5 440V526.4M854.7 450V539.8M874.2 480V496M802.6 405V409M802.6 412V418M802.6 421V428M802.6 431V437M802.6 440V445M826.3 417V525.9M814.9 422V440M796.5 447V535.2M807.5 428V465M681.5 460V482M220.4 458.5V464.8M220.4 472.5V493.9M220.4 495.6V514M220.4 514V523.5M220.4 525.1V536.6M271.2 456.2V478.1M271.2 480.6V494.8M271.2 496.7V514.6M271.2 514.6V518.5M280 462V471.1M280 471.1V492.9M280 492.9V510.3M280 510.3V526M266.7 471.3V486.9M266.7 490.1V502M266.7 502V507.9M275.1 475.1V487.8M275.1 487.8V500.9M275.1 500.9V513.9M275.1 516.8V527M290.9 476V495.8M290.9 497.4V519M290.9 522.2V531.1M288.8 491.8V512.5M288.8 512.5V522M288.8 522V526.9M278.6 494.1V516.1M278.6 519.5V523.8M297.9 491.8V508.3M297.9 511.4V517.1M162.5 497V513.1M162.5 513.1V523.6M162.5 527.2V533.2M178.9 494.4V505.8M178.9 508.9V522.8M178.9 526V528.2M187 488.3V504.1M187 504.1V508.7M187.7 496.7V503.9M187.7 503.9V505.2M199.6 484.4V503M199.6 505.9V510.9M199.6 513.9V522.3M199.6 496.2V505.5M199.6 508.1V522.1M199.6 522.1V528.6M199.6 532.5V535.3M206.7 491.3V508.5M206.7 510.1V527.9M206.7 527.9V535.4M211.6 485.6V494.7M211.6 494.7V501.9M211.6 501.9V513.5M220.4 478.3V484.4M220.4 488V494.4M220.4 494.4V506.1M220.4 506.1V524.1M217.2 481.8V488.6M217.2 488.6V509.5M217.2 509.5V521.9M217.2 521.9V529.9M229.5 483.5V501.3M229.5 503.4V509.5M236.5 473.4V483.4M236.5 485.9V498.7M236.5 502.3V517M236.5 519.8V535.6M244.7 476V484.4M244.7 488.1V502.4M244.7 502.4V521.8M244.7 524.3V530.1M244.7 530.1V532.2M235.6 492.7V506.9M235.6 506.9V511.1M229.8 492.3V504M229.8 504V514.9M222.5 496.2V508.6M222.5 508.6V517.5M217.2 497.9V518.8M217.2 518.8V526.5M253.7 490V502.8M253.7 502.8V516.3M254 497.6V503.7M254 503.7V505.3M249.6 496.2V504.6M249.6 508.5V519.5M328.1 466.1V486M328.1 486V491.3M328.1 491.3V508.8M328.1 510.9V528.1M328.1 528.1V529M310.7 465.5V483.7M310.7 483.7V497.5M310.7 497.5V505.9M310.7 507.5V510.2M319.8 473V485.5M319.8 485.5V505.3M319.8 505.3V512.5M319.8 515.2V528.3M325.1 480.4V497.4M325.1 497.4V507.7M325.1 510.6V519.2M325.1 519.2V531.3M325.6 493.2V500.9M325.6 504V515.8M300.2 497V507.7M300.2 507.7V511.1M339.6 481.3V497.5M339.6 497.5V503.7M339.6 503.7V509M339.6 509V511.9M368.1 486.5V496.3M368.1 499.2V511.6M354.9 492.3V510.3M354.9 510.3V525.1M354.9 528.1V530.3M348.8 497.6V507.7M342.6 496.2V506.8M342.6 508.6V520.9M388.6 479.5V492.2M388.6 492.2V499.2M388.6 501.6V507.2M388.6 510.2V522.2M388.6 522.2V528.9M393.2 470.7V488.1M393.2 488.1V499.2M393.2 499.2V505.7M400.9 477.8V488M400.9 489.7V498.8M400.9 501V515.2M400.9 517.3V531.9M400.2 452.3V462.1M400.2 462.1V482.6M400.2 482.6V491.6M400.2 493.4V499.3M400.2 499.3V516.2M400.2 519.6V526.1M400.2 529.7V536.3M404.9 485.6V492.5M404.9 492.5V499.5M404.9 499.5V508.2M404.9 511.7V525.4M404.9 525.4V525.6M404.9 491.3V500M404.9 500V507.9M392.6 492.3V507.4M392.6 509.7V530.1M387.9 496.2V506.1M388.2 488.3V506.9M388.2 506.9V510.5M421.6 472.3V478.3M421.6 478.3V484.2M421.6 486.7V502.8M421.6 502.8V517.7M421.6 517.7V527.6M433.9 458.5V467.9M433.9 469.5V482.5M433.9 482.5V490.3M433.9 493.4V514.3M433.9 514.3V521.4M428.6 470.7V486.5M428.6 489.9V508.5M428.6 508.5V526.6M431.8 473V492.9M431.8 492.9V513.8M431.8 513.8V519.6M431.8 519.6V523.5M438.2 477.8V488.6M438.2 492.5V501.4M438.2 501.4V519.8M438.2 519.8V530.5M447 483V493.1M447 493.1V514.3M447 514.3V515.1M427.7 493.5V501M427.7 501V507.4M427.7 510.1V514.9M434.7 497V511.2M446.1 496.2V505.3M446.1 508.4V519.8M446.1 519.8V522.8M563.2 435.6V446.6M563.2 451.2V471.1M563.2 471.1V490.6M563.2 490.6V502.3M563.2 505.9V510.5M458.9 458.1V475.6M458.9 475.6V493.1M458.9 493.1V509.4M458.9 512.8V522.1M458.9 522.1V526.7M492.6 456.4V466.6M492.6 466.6V487.5M492.6 490.7V504.1M492.6 504.1V509.4M492.6 509.4V514.8M506.7 461.5V474.3M506.7 474.3V479.5M506.7 479.5V489.1M506.7 492.9V506.5M506.7 506.5V514.5M506.7 514.5V515.3M519.3 473.4V489.3M519.3 489.3V510.8M533 465.6V484.8M533 484.8V490.6M533 490.6V510.8M533 514.3V515.7M501 471.8V492.2M501 492.2V513.7M501 513.7V524.9M501 524.9V527.5M507.5 473.4V489M507.5 489V500.8M507.5 500.8V512M507.5 515.4V520.7M513.7 472.1V485.6M513.7 485.6V493.3M513.7 493.3V499.1M513.7 501.9V518.2M513.7 518.2V525.6M530.9 477.8V489.5M530.9 489.5V509M530.9 511.6V516.8M530.9 516.8V528.7M458.4 482.1V503.8M458.4 503.8V516.9M470.7 481.4V500.6M470.7 500.6V521.4M470.7 523.3V532.3M507.5 484.9V496.8M507.5 496.8V508.9M517.2 486.2V499.7M517.2 503.4V518.2M585.1 480V500.8M585.1 502.8V518.7M598.8 470.9V476M598.8 476V485M598.8 485V493.6M598.8 493.6V507.2M472.5 491.4V498.7M472.5 502.3V511.3M472.5 513.5V519.1M472.5 519.1V533.1M492.3 489.7V509.6M492.3 513.3V526.4M500.5 495.8V509.5M500.5 509.5V525M484.7 497.6V517.7M484.7 519.3V523.8M529.8 495.5V508.3M529.8 508.3V512.2M536.5 491.4V506.4M536.5 506.4V512M536.5 512V524.9M536.5 524.9V534.9M536.5 534.9V537.2M546.1 499V512.6M550.9 491.4V513M550.9 513V514.3M552.3 495.8V505.4M552.3 509.2V518.9M552.3 520.7V531.8M560.2 490.9V507.2M560.2 507.2V513.2M560.2 516V518.5M561.4 499.3V511.6M561.4 511.6V524M577.7 499V511.3M440 477.4V483.7M440 483.7V489M440 489V507.4M440 507.4V525.6M440 528.9V530.1M623.3 413.4V431M623.3 433.4V445.5M623.3 445.5V463.2M623.3 463.2V478.8M623.3 481.2V488M623.3 488V504.8M623.3 504.8V505.8M636 461.6V472.4M636 472.4V483.6M636 483.6V496.9M636 499.2V509.6M636 509.6V530.5M730.7 434.8V444.1M730.7 451.6V470.5M730.7 470.5V487.8M730.7 491.5V504M730.7 505.7V522.4M744.7 442.8V461.6M744.7 465.1V473.5M744.7 473.5V493.1M744.7 496V505.9M727.2 464.5V485.5M727.2 485.5V506.2M727.2 506.2V526.7M727.2 526.7V534.8M698.2 452V459.9M698.2 459.9V481.7M698.2 481.7V501.7M698.2 501.7V508.7M698.2 508.7V520.2M698.2 520.2V533.4M675.4 459.3V473.9M675.4 477.3V493.3M675.4 497.1V505.2M601.4 469.5V490.5M601.4 490.5V508.7M601.4 511.6V518.3M602.6 475.1V488.1M602.6 488.1V506.4M609.6 480.4V487M609.6 489.9V505.3M609.6 508.1V529.4M609.6 533.1V534.1M612.5 490.6V505.1M612.5 505.1V507.8M616 492.3V508.5M616 508.5V521.3M616 521.3V528.3M627.7 480V499.2M627.7 502.5V520M627.7 520V521.7M638.2 484.9V498.7M638.2 498.7V505.2M632.1 493.2V499.7M632.1 502V512M632.1 512V526.8M632.1 528.8V535.1M641.2 495.5V504.1M641.2 508.1V528.8M641.2 528.8V530.3M646.5 481.8V488.2M646.5 489.8V507.2M646.5 507.2V514.5M646.5 514.5V529.8M651.8 474.8V484.1M651.8 487.6V507M651.8 509.5V514.7M653.2 487V500M653.2 500V517.9M653.2 517.9V526.6M650.5 497.6V505.4M676 476.2V495.1M676 498.5V507.6M676 509.3V516.8M671 484.9V495.6M671 497.4V510.2M671 511.9V519M672.5 489.3V503.1M672.5 503.1V518.9M672.5 518.9V527.6M672.5 527.6V535.7M697.4 476.9V483.9M697.4 483.9V499.3M697.4 499.3V507.1M697.4 507.1V517M697.4 488.5V495.1M697.4 495.1V511M697.4 511V527.1M697.4 527.1V534.5M697.4 536.2V536.7M711 491.4V497.6M711 500.5V517.8M711 517.8V522.7M726 475.1V487.8M726 487.8V497.1M726 500.3V508.3M726 508.3V528.2M726 528.2V535.4M725.1 498.5V516.8M743.5 471.8V482.5M743.5 482.5V501.9M743.5 503.6V516.6M742.3 486.2V495.7M742.3 498.4V515.3M790.4 461V470.5M790.4 470.5V481.6M790.4 481.6V489.6M790.4 492.9V504.2M790.4 507.4V507.9M744.7 443V460.9M744.7 464.1V484.1M744.7 484.1V493.2M744.7 493.2V502.7M744.7 504.4V510.5M768.1 454.4V467.7M768.1 467.7V488.4M768.1 488.4V494.5M768.1 496.6V509.2M768.1 511.5V517.5M768.1 517.5V520.6M864.6 469.9V490.7M864.6 492.3V504.7M864.6 507.5V521.2M864.6 522.9V536M864.6 536V538M766.7 468.8V487.5M766.7 487.5V494.2M766.7 497.7V503.8M766.7 503.8V509.3M776.8 472.3V491.1M776.8 491.1V507M776.8 507V512.6M776.8 512.6V525.7M763.7 475.8V487M763.7 490.7V501.2M763.7 504.8V509.6M778.9 481.6V486.9M778.9 486.9V504.2M778.9 504.2V523.6M778.9 527.6V528.1M763.2 483.4V489.5M763.2 491.4V502.6M763.2 502.6V508.7M805.8 471.6V488M805.8 491.8V500.1M805.8 500.1V510.3M805.8 510.3V519.9M805.8 519.9V529.5M805.8 482.1V499.2M805.8 499.2V517.2M800.5 486V504.8M800.5 504.8V510.1M811.6 489.2V498.6M811.6 498.6V508.3M811.6 508.3V517.8M829.1 471.6V482.1M829.1 482.1V489.9M829.1 489.9V496.3M829.1 496.3V509.5M836.5 481.3V488.9M836.5 488.9V510.3M836.5 510.3V512.4M838.2 493V514.4M838.2 514.4V520.6M838.2 520.6V528.6M838.2 530.3V532M810.2 497.4V512.3M810.2 512.3V525.8M810.2 525.8V528.3M816.8 498.8V511.2M816.8 511.2V520.5M768.4 494.8V510.7M768.4 510.7V532M768.4 535.6V536.6M761.4 497.9V508.5M761.4 508.5V512M756.1 494.4V514.5M756.1 514.5V525M756.1 525V536.5M860.2 486.5V498.3M860.2 501.7V513M860.2 513V522.9M858.4 480.7V502.7M858.4 502.7V517M856.7 493.5V509M856.7 509V522M856.7 522V532.6M856.7 532.6V534.2" stroke="#cfcfcf" stroke-width="1.6" stroke-linecap="round" stroke-dasharray="7 2.5 3 2.5 11 2.5 5 2.5" fill="none"/>
<path d="M417.8 102V530" stroke="#4a4a4a" stroke-width="5" stroke-linecap="round" fill="none"/>
<path d="M417.8 102V530" stroke="#d8d8d8" stroke-width="2.8" stroke-linecap="round" fill="none"/>
<path d="M417.8 103V528" stroke="#777" stroke-width="0.8" stroke-dasharray="14 3 22 2 9 4" fill="none"/>
<path d="M174.8 494v1.9M174.5 502.3v1.1M173.7 506.5v1.7M174.9 511.6v1.8M174.1 514.2v1.8M175 519.3v1.7M173.7 530.4v0.8M224.4 494v0.7M225.3 496.4v0.6M225.9 499.7v2.2M224.5 506.1v0.6M226.1 512v1.2M225.6 516v2.5M225 526.6v0.5M283.8 494v0.6M284.5 500.4v1.7M283.8 505.7v0.5M284.6 511.5v1.4M167.1 498.1v1M167.4 506.8v2.5M167.9 515.4v1.2M150.6 497.3v1M150.5 502.9v2.1M259 494v0.6M260 502.4v1.5M259.8 511.9v1.6M262.1 497.3v0.7M262.3 502.9v2.4M262 507.2v0.6M261.6 516.5v0.8M262.4 526.2v1.8M268.4 501.7v1.3M268.3 525.9v2.1M303.8 494v2.1M314.4 494v1M314.5 500.4v2.5M316.2 503.3v2.4M316.3 510.1v0.5M316.2 530.1v0.8M378 494v1.2M377.5 497.7v1.9M378.8 502.4v0.8M380.5 510.8v2M379.8 519.6v2.3M380.3 525.2v1.7M381.3 529.2v1.8M380.4 532.4v1.8M363.5 497.3v2M362.7 510.7v0.5M402 494v1.6M402.7 509.4v0.5M453.5 494v2M453.2 500.8v2.4M453.8 505.8v0.7M454.5 509.4v1.5M454 515.3v0.5M452.5 529.9v1.8M453.6 535.4v0.6M478.7 501.7v0.9M478.5 504.3v0.8M479.7 512v0.6M480 522.7v1.6M480.1 528.6v2.5M479.3 533.5v1.7M499.1 498v2.2M497.7 507.2v0.9M498.8 511.4v2.5M498 517.7v1.8M498.6 521.5v0.7M499.1 524.7v2M629.1 494v1.5M629.2 501.9v1.3M630 504.2v1.2M626.7 494v1.6M659.9 494v1.8M659.2 498.7v1.6M658.8 508.8v2.3M659 519.9v1.5M708.8 494v0.7M708.7 510.1v1.1M707.3 517.6v2M707.3 520.2v1.4M707.2 528.3v1.6M749 498.8v1.3M748.1 506v0.7M748.2 508.6v1.9M747.7 511.3v0.9M749.2 517.5v1.2M748.5 521.2v0.5M854.9 503.8v2.3M854.6 514.5v0.5M853.8 523v2.1M855.1 527.1v0.8M826.6 496.8v1.2M827.1 506.6v0.9M826.6 512.6v1.7M795.7 505.6v1.3M796.7 513.6v0.8M797.3 521.5v2.1M796.2 523.8v0.6M795.6 529.2v1M796.5 534.3v1.5M220.6 514v2.2M220.4 525.1v1.4M221 527.2v2.3M220 535.6v2.2M272 508.9v0.9M270.7 514.3v0.6M280.2 494v2.4M279.9 496.8v1.1M280.3 499.1v1.5M279.5 503.2v1.5M280.8 505.7v2.3M280.9 510.3v1.6M280.9 512.7v1.2M279.8 516v0.7M279.6 521.9v1.2M267.2 494v1.1M267.3 501.7v2.4M267.6 502v0.9M274.5 496.7v1.1M274.5 505.2v0.6M274.3 516.8v1.1M275.3 519.2v1.8M275.9 524.6v1.9M291.3 497.4v1.6M290.1 509v1.7M291.9 518.7v0.6M287.9 499.8v1.4M288.5 503.9v1.2M288 512.5v2.1M288.9 515v0.7M289.3 519v2M289.7 521.9v0.5M289.3 522v2.2M288.8 526.3v0.6M279.5 499.3v0.9M277.8 507.3v2M279.5 516.1v0.7M279.6 523.8v2M297 499.2v0.6M297.4 506v0.9M297.4 511.4v1.4M162.6 497v1.1M162.8 500.5v1.2M163.2 502.6v0.6M161.9 504.9v1M162.9 509.5v1M161.6 513.1v1.7M161.6 518.7v1.4M161.9 523.3v2.5M163.1 532.4v1M179.6 497.5v1.3M178.8 502.8v0.9M179.7 508.9v1.8M179.5 512v0.7M179.6 514.9v0.7M186.4 504.1v2M187.1 506.6v2.5M187.6 499.2v1.7M186.9 501.4v1.8M187.7 503.9v1.9M200.3 498.2v0.6M200 501.2v2M199.3 509.7v1.8M198.6 520.7v1.6M199.5 496.2v1.7M200 508.1v2M199 510.9v2.3M199.3 513.1v1.3M198.9 518.9v0.8M199.9 525.5v1M198.7 527.6v1.3M206.2 494v1.5M206.1 505.9v2.1M206.3 510.1v0.8M205.9 519.4v1.9M206.6 524.8v2M206.8 527.9v1.5M206.6 533.3v1M211.1 500.3v1.2M211.1 505.5v1.8M212 512.8v1.4M221.1 522.5v1.9M217 496.7v1.4M216.9 502.4v1.9M217.3 507.3v0.9M218.2 521.9v1.8M216.2 526.9v2.3M218.2 529.8v0.9M229 494v0.8M230.3 498.8v2.1M230.3 501.1v1.1M229.6 503.4v2.1M228.8 507.5v0.9M236.1 519.8v0.9M245.4 497.3v1.5M243.8 501.5v2.4M245.3 510.8v0.6M245.4 521.5v1.4M244.3 524.3v1.8M244.4 528.7v2.3M236.1 498.7v0.7M234.7 506.9v1.1M230 494v2.3M230.7 506.9v1.5M228.9 509.4v0.7M222.5 496.2v1.7M221.8 506.1v1.5M223.4 514.9v0.9M216.9 506.5v0.7M217.8 515v2.2M254 494v0.7M253.6 499.9v2.2M254.4 502.8v0.8M252.9 512.5v1.9M254.2 497.6v0.9M253.2 502.2v2.5M254.8 503.7v1.8M250.3 496.2v2.5M249.3 508.5v0.7M249.1 516.4v2.1M328.2 494v2.3M327.6 496.8v2.2M327.1 499.8v2.3M328.9 502.7v1.3M327.1 514.7v1M327.9 518.1v1.8M327.9 522.2v1.7M310.1 500.3v2.4M320.2 494v2.3M319.3 497.7v1.5M320.4 500.4v2.2M319.6 505.3v0.5M320.2 508.5v1.5M318.9 511.4v0.7M320.4 515.2v1.9M320.1 517.8v2.5M325.1 499.9v1.4M325.1 505.8v1.9M325.3 521.8v1.2M324.4 526.2v1M324.6 494v0.7M300.2 502.8v1.8M339.2 494v2.4M338.8 509v1.4M368.8 494v2.2M368.2 499.2v0.5M368.2 503v1.8M368.1 507.1v1.2M368.8 510.6v1.1M355.7 494v1.5M354.8 501.3v2.4M355.3 512.4v1.2M355.2 520.7v1.1M355.2 528.1v1.6M349.2 503.4v0.9M342.9 502.1v1.3M341.9 505.7v1.5M343 510.7v0.7M342.3 515v2.1M342.3 520.5v1.7M389.4 501.6v1.6M388.7 510.2v2.5M388 518.6v2.3M388.5 522.2v1.4M393.4 497.6v1.4M392.6 501.5v0.6M401.6 494v2M400.7 504.9v2.3M400.2 508.8v0.7M400.8 517.3v0.9M400.4 526.6v2M399.7 494v1.4M400.1 498.1v1.6M400.7 502v1.9M399.6 506.8v1.8M400.7 509.6v1.5M400.1 519.6v0.6M399.5 532v0.6M400.5 535.7v1.3M405.5 496v1.4M404.6 511.7v0.7M405.8 515.2v1.8M405.2 525.2v1.5M405.1 500v1.3M405.7 506.3v1.2M392.9 494v1.7M392.1 496.2v2.2M392.9 522.2v0.8M388.7 496.2v0.8M388.1 506.9v2.3M421.5 494v2.2M421.3 499.8v1.6M420.8 502.8v2.2M421.4 512.8v2.4M422.4 517v2.2M422.4 526.7v0.6M434.7 494v0.9M433.3 508.9v1.9M434.3 512.5v1.4M434.3 520.5v0.5M428.2 494v0.5M428.4 508.5v0.9M428.5 517v0.6M428 525.3v1.7M431.7 494v1.2M431.4 501.7v0.7M431.2 505.4v2.3M432 510.6v0.7M431.7 513.1v1.4M431.3 513.8v1.9M432.6 519.6v2.2M438.5 494v1.6M438 498.9v0.8M437.8 501.4v2.2M438.2 516.8v0.5M446 494v2.5M447.3 503.6v2.5M446.7 506.9v1.8M446.9 511.6v1.3M446.2 514.3v2M428 501v1.5M427.5 506.9v2.5M427.7 510.1v1.5M433.9 497v0.9M435.5 501v1.3M433.9 506v0.8M445.7 496.2v1.4M445.7 498.7v2.2M445.4 511.4v2M446.5 519.8v2.1M562.8 494v1.2M563.8 497.1v1.6M563.6 505.9v1.4M563.2 510.4v1.6M459.2 494v1.6M459.3 497.9v2.3M459.2 516.8v1.7M493 494v0.8M492 504.1v2.3M491.6 509.4v1.1M506 494v1.3M506.9 497.1v2.4M507 514.5v2.4M518.8 494v2.1M519 499.2v2M519.3 503.8v2.4M519.6 506.3v1.2M518.5 510.4v2.3M533 494v2.1M533.2 496.2v1M533.8 498.9v1M532.5 504.9v0.9M533.4 509v1.5M532.1 514.3v1.8M500.7 497.9v0.7M501 501.3v2.3M500.8 511.2v1.1M500.2 513.7v1.5M501.5 518.9v0.5M500.4 522.9v1.5M506.9 500.2v1.6M506.7 500.8v0.7M507.8 505v2.1M507.2 508.8v2.1M506.9 515.4v0.9M513.8 504.1v1.5M513.6 518.2v0.9M512.8 523.6v1.8M530.9 494v1.2M531.3 499.6v1.5M531.1 505.5v2.2M530.2 511.6v2M530.1 523.9v2.4M531.6 527.4v1.6M457.9 496.5v1M457.6 498.7v1.5M458.2 509.3v2M458.8 513.8v1.4M470.8 494v0.9M469.9 500.6v2M469.7 514.5v1.7M470.4 518.2v1.8M470.7 520.4v1.5M470.3 523.3v1.7M469.9 527.1v1.5M469.8 529.8v1.6M507.9 494v2.2M507.8 502.4v1.4M516.4 494v0.9M517.8 503.4v1.9M516.6 514.4v1.9M585.5 499.1v0.5M584.5 512v2.3M599.5 503v0.5M472.1 502.3v0.9M473 518.3v1.1M472.7 519.1v1.7M473.1 527.8v1.1M491.4 496.6v2.2M493.1 501.2v1.2M493.1 509.3v2.5M492.6 517.7v2.5M492.6 522.8v2M500.1 495.8v1.5M500.6 520.2v2.2M484.7 497.6v1.6M485.4 502.8v1.1M530 503.2v1M529.6 508.3v1.6M536 494v1.8M536.7 503.5v2.3M536.2 506.4v1.5M535.7 514.6v1.8M535.6 520v0.9M537.3 529v1.8M535.9 533.1v1.4M536.1 534.9v0.8M545.8 499v2.1M550.6 503.9v2.2M550.3 506v2.4M551.4 512.7v1M551.2 513v2.3M552.7 498v0.7M552.7 501.2v1.6M552.4 509.2v1.7M551.4 513v2.2M551.4 520.7v2.4M551.8 530.7v1.9M560.4 494v2.2M559.7 496v1.9M560.9 516v1M560.7 506.6v1.7M561.7 511.6v1.9M562.1 523.8v1.3M577.7 499v2.3M577.5 502.9v1M440.7 502.5v2.5M439.8 505.3v1.5M439.5 515.9v1.2M439 519.5v1.3M623.2 498.5v2.2M624.2 502.1v1.1M636.2 502.1v1.7M636.5 509.6v2.4M636.4 515.2v2.1M637 525.3v1.1M635.8 530.2v1M730.9 505.7v2.3M729.7 510.8v1.1M729.8 512.8v1.6M730.9 516.9v1.2M729.9 521.1v2.4M744.2 501.4v0.9M727.8 499.7v1.4M727.4 504.9v1.6M728.2 506.2v1.6M727.8 511.6v2.2M727.9 515v1.1M727.4 525.6v1.9M727.9 532.6v1.1M697.7 494v0.7M697.7 501.7v0.7M698.1 506v2.5M698 512.6v1.4M697.7 520.2v2.1M698.6 525.6v1.3M697.5 531.5v2.2M675.6 500.2v2.3M675.6 502.8v2.1M602 494v2.2M601.5 498v2.1M602.1 500.6v1.2M600.8 502.9v1.4M601.6 515.4v1.5M603.1 494v1.2M602.9 497.3v0.9M603.4 503v2.4M609.9 499.4v0.5M610.3 519v0.5M612.6 494v2M612.1 499.5v2.3M613.1 503.8v1.5M616.8 499.4v1.6M616.4 507.5v1.7M616.1 517.6v1.8M615.4 521.3v1M626.7 502.5v0.9M627.6 508.4v2.4M627.4 511.4v1.3M626.9 517.8v1.6M637.5 496.1v2.3M637.9 502.4v1.8M633.1 494v1.4M632.8 502v0.9M632.9 504.9v1.8M633.1 521.9v2M632.2 528.8v1.2M632.7 534.1v1.9M640.7 495.5v1.2M641.5 510.4v2.2M642.1 514.4v1.4M640.6 520.3v1.6M641.3 528.8v2.2M645.7 496.5v1.6M645.9 507.2v1.3M646 509.7v1.3M651.6 494v1.4M652.1 498.8v2.5M651.5 514.5v2.4M652.8 517.9v0.9M654 520.5v1.4M650.1 501.3v2.4M676 503.3v1.5M676.7 509.3v1.1M676.8 513.2v1.4M670.6 497.4v1.2M671.3 501.9v0.7M671.6 505.4v1.1M671.9 511.9v2.3M670.3 514.8v1.6M672.9 501.5v1.9M672.5 510.6v1.3M672.5 514.6v1M673 518.6v1.6M673.2 518.9v2.5M673 525.9v0.7M671.7 527.6v2.3M698.1 494v1.9M697.6 496.8v0.9M697.2 499.3v1.9M698.1 504.2v1.1M698.1 506.6v1M696.8 497.6v2.1M698.3 501v0.6M696.9 504.2v1M696.9 511v2.4M697 516.5v1.3M698.3 519.2v1.3M696.5 524.3v0.7M697.9 527.1v0.7M697.7 530.1v2M711 500.5v1.4M710.2 507.9v1.3M711.2 511.3v1.6M710.7 513.4v1.8M726 494v0.9M725.3 500.3v2M726.1 507.4v0.9M725.7 508.3v1M725.8 516.9v1.5M725.4 519.1v0.6M726.5 524v1.3M725.1 527.6v2.3M725.1 528.2v1.9M726.2 532.1v1.3M724.4 498.5v2.2M724.3 511.2v0.8M742.8 497v1.1M743.1 501.7v1.7M744.3 503.6v1.1M743.1 508.1v1.3M743.4 511v2.1M742.6 498.4v1.5M742 506v0.6M743.2 511.8v0.7M789.7 494v1.3M789.6 497.5v1.7M790.4 499.7v0.5M790.8 502.3v0.7M791.1 507.4v2.5M745.6 499.9v1.3M744.9 504.4v1.2M768.6 504.8v2.3M767.3 517.5v2.1M864.3 494v2.5M864.7 507.5v1M864.7 510.7v2.3M864.3 516.5v1.3M863.7 522.9v2.3M863.8 527.5v0.8M865.6 533.4v2.4M767 499.9v1.1M766 503.8v2.4M776.8 494v0.6M776.3 497.5v1.4M777.8 499.9v1.8M776.5 509.9v1.6M776.8 515.7v1.4M776.1 517.9v0.6M762.7 494v1.7M763.9 498.8v0.9M763.8 504.8v0.7M764.6 508.7v2.2M779.3 498.4v1.9M779.5 504.2v1.2M779.5 508.4v1.6M779.3 517.2v1.5M779.1 523.2v0.9M763.9 494v1.2M762.9 499.7v0.9M806.3 496.3v0.9M806.3 502.3v1.7M805.2 508.4v2.3M804.9 522.3v1.3M805.7 499.2v1.9M805.8 507.9v1.9M805.5 515.8v2.2M800.6 499.7v0.7M800.8 504.8v1.2M811.2 498.6v1.5M829.1 496.3v2.2M836.3 496.5v0.6M837.5 502.1v2.5M837.4 509.4v1.4M837.2 510.3v0.9M837.7 494v1.1M837.6 501.2v1.1M837.3 514.4v2.2M839.1 519.3v2M838.2 520.6v0.9M837.5 522.8v1.5M810.6 505.5v1.6M811.1 512.3v2M810.5 522.7v1.6M816.6 507.9v2.1M817.4 516.4v1.7M816.7 520.3v1.3M768.3 494.8v1.7M768.1 498.7v1.5M767.5 506v0.7M768.6 510.6v1.7M768.3 510.7v2.2M769.4 515.2v1M768.6 522.2v0.7M768.9 535.6v0.7M760.8 497.9v1.9M761.7 503v0.7M761.6 507v1.6M756 494.4v0.9M755.5 497v1.7M755.9 502.9v2.2M755.9 506.9v2.3M756.8 510.6v2M755.8 514.5v2.1M757 517.7v0.7M756.4 523.5v2.3M860.3 494v2.3M859.4 501.7v2M860.3 513v0.6M859.4 518.2v1.9M860.8 520.8v0.5M858.8 505.2v0.6M858.8 508v0.9M857.6 513.7v2.1M856.7 494v0.6M855.9 499.6v1.9M855.8 502.9v1.2M856.4 508.6v1.1M857.3 522v2.2M855.7 527.6v1.5M857.5 532.6v1.9M153.2 494v1.7M154.2 499v1M153.3 525.4v0.8M153.1 528.5v0.5M152.4 533.7v1.6M154.2 536.5v2.3M153 520.1v1.6M152.9 535.9v1.2M153.9 539v0.9M158.8 494v0.6M158.4 497.1v1.1M158.3 501.5v1.5M162.8 502.2v1.9M164.2 505.8v1.6M162.8 525.7v1M164.4 531.1v2.1M162.8 534.8v2.3M170.3 515.8v1.5M176.6 494v1.8M176.1 522.2v1.2M176.4 527.2v1.6M174.9 533.1v2.1M175.5 511.4v2.3M176.3 518v0.5M175.9 526.7v2.2M186.6 509.9v2.2M185.6 519.9v1.7M186.1 522.3v0.7M186.8 525.8v1.9M192.5 498.1v2M191.7 501.3v2.4M192.2 512.1v2.4M192.5 523v1.4M192 531.8v1.9M197.1 494v2.4M195.3 497.8v0.6M195.7 505.2v2.4M195.9 509v1.6M196.9 513v1.1M196.5 525.6v1.4M195.9 512v1.2M195 517.6v1.1M195.5 531.9v0.5M199.5 504.9v2.3M199.7 506.9v2.2M201.1 521v2.5M199.7 523.7v2.2M201.2 528.6v0.6M199.8 534.5v0.6M207.5 494v1.1M206.8 499.4v2.3M207.3 504.4v0.8M207.8 520.5v1.7M212.8 496.1v2.4M212.7 498.2v1.2M213.3 502v1.6M212.6 507.5v2.5M213.7 512.5v2.4M212.1 515.2v2.1M213.5 519.1v0.9M212.6 523.2v0.7M214 528.8v1.9M213.9 532.8v0.6M218.9 494v1.7M219.7 520.6v1.1M223.4 525.1v0.9M221.6 533.8v0.7M223.9 508.6v1.6M222.9 511.9v0.9M223 514.7v1.9M223.1 524.3v1.6M222.4 526.4v1.5M221.9 532.1v1.4M228.6 494v0.6M229.2 500.1v1.7M227.6 503.2v0.6M228 508.1v1.6M229.4 514v0.7M229.4 521.9v2.4M232 494v1.8M231.6 497.3v0.5M232 508v1.2M237 498.5v2.1M237 504.2v1.5M237.7 518.7v0.9M237.8 524.1v1M237.6 529v1.6M243.3 494v1.3M242.2 497.4v1.7M243.7 502v2.4M243.4 516.3v1.6M243.3 521.5v1.2M242.8 526.3v0.9M242.1 522.8v1.2M250 494v1.7M249.4 512.9v0.9M254.5 494v2M253.7 502v1.4M253.6 510v1.9M254.3 518v1.9M254.3 523.9v2.4M253.5 529.3v2.4M255.1 535.1v0.7M253.4 539.5v0.6M255.2 542.5v1.5M258.6 497.4v1.6M259.3 502.2v1.5M258.6 505.2v0.8M258.8 509.4v0.5M258.6 511.9v1.2M259.3 520.8v1M258.7 524.1v2M258.3 528.8v1.1M258 531.4v1.9M258.2 541.8v2.5M270.4 500.2v1M270.5 503.2v1.4M269.7 507.2v2.1M270.1 514.1v2.1M268.8 520.4v1M273 516.1v1.1M279.7 494v1.6M278.6 498.8v1.9M279.3 500.9v1.3M278.5 513.4v0.7M283.2 499.3v2.3M284.2 502.5v2.4M283.1 505.1v2.3M283.1 508.4v1.1M284.2 513.1v1.6M284.1 516.3v0.5M284 524.3v1.9M283.7 530.3v0.9M283.6 533.6v1.7M282.7 509.7v1.7M283.4 512.3v1.3M283.6 528.7v0.8M284.1 531.6v1.9M287.1 495.1v0.5M287.1 507.9v1.1M287.4 513.8v0.7M288 518.6v0.9M288.4 523.9v0.9M287.4 538.1v1.9M294.3 494v2.2M294.1 504.2v2.1M294.4 506.8v1.1M299.5 504v1.6M299.8 519.4v2M303.5 498.2v0.6M304.6 511.8v2.1M303.6 517v1M303.9 524.8v2M303.9 529.4v0.9M302.8 533.5v0.5M303.7 535.8v1.8M303.1 539.8v2.4M307.9 499.8v0.9M312.2 494v2.3M310.7 518.4v1.9M311.8 528.6v0.9M311.9 532.9v1.3M316.3 504.8v0.9M317.5 510.1v2.1M316 515.5v0.9M317.3 521.1v1.9M315.7 524.9v1.1M316.5 533.2v0.7M316.2 538.6v1M316.3 541.2v1.9M323.1 509.3v2.4M322.2 513.1v2.4M323 531.9v2.3M322.2 510.6v1M326.6 499.4v2.4M327.3 511v1.9M331.2 498.9v1.3M331.7 504.9v1.5M330.7 532.7v2.4M337 511.1v1.4M336.1 518.7v2.1M336.9 521.1v0.7M337.5 528.3v1.9M336.2 512.3v1.5M341.1 514.5v2.5M341.8 524.8v1.9M347 497v0.6M345.4 501v0.7M345.7 509.8v1.8M346.4 512.7v2M346.7 526.9v0.8M346.9 529.1v0.7M351.3 494v2.4M352 498.2v2.3M351.4 503.6v2.1M352.7 507.2v1.1M352.6 510.7v2.2M359.3 502.8v2.4M359.1 523.4v1.4M359.8 531.1v1.1M362.3 508.6v2.4M362.8 511.2v2.2M368.6 523.5v2.4M375.1 499.4v1.6M374 507.1v0.7M374.6 519.3v2M375.2 528.7v1.7M383.7 500.9v2.3M384.4 504.4v0.8M384.9 507.5v1.5M384.3 510.3v2.1M384.4 518.6v1.7M389.1 494v1.5M388.8 497.2v1.3M388.9 500.6v2.3M389 505.7v2.4M396.3 503.8v1.4M400.5 516.2v2.3M400.8 518.7v2.2M400 524.7v2.1M401.3 530v1.8M400.2 513.1v1.2M400.9 522.2v1.3M407 510.9v1.7M407.8 513.3v1.7M406.7 519.2v2.2M412.1 512.3v0.6M413.8 517.5v0.8M413.6 521.8v2M413 525.7v0.9M417.5 496v2M417.9 501.8v0.6M416.1 507.2v0.7M416.6 512v1M416.2 528.1v2.5M417 532.7v1.6M416.7 537.6v1.3M422.4 515.8v1.5M423.1 523.1v1.9M423.6 526.5v1.4M423 536v1.1M422.8 512.7v0.7M429.5 502.7v2M429.8 504.8v0.5M428.1 512.4v0.7M434.8 496.3v0.7M433.8 499.3v1.1M434 515.4v1.9M433.8 519.1v1.7M439.8 494v1.5M441.5 506.5v2M440.2 510.5v0.9M440.3 515.8v0.8M440.3 522.7v1M440.5 527.6v2.3M439 512v1.3M439.4 519.9v1.2M439.2 524.4v1.4M440.2 530.3v1.1M443.7 494v0.8M445 497.8v1.1M444.2 518.6v1.4M445.4 528.3v1.9M449.9 504v1.8M450.3 506.3v1.5M448.6 508.7v1.2M449.1 520.4v0.6M449 523.1v2.2M449.8 530.6v0.9M448.7 536.2v1.8M455.7 494v2.4M455.5 502.1v2.2M455.3 507.3v2.1M456.5 512.2v0.9M455.3 519v1.9M455.3 526.1v1.8M455.9 528.6v0.6M461 506.4v1.4M460.6 516.2v2.4M470.8 509.7v2.3M471.2 518.6v1.1M470.9 534.5v1.8M477.1 501.1v1.3M477.1 510.5v2.5M475.5 514.9v1.5M476.6 522.8v0.6M482 500v1.2M482.8 504.9v1.7M481.9 510.3v1.4M482.2 515.2v2.4M482.4 517.9v1.6M481.9 525.9v0.9M486.5 495.5v1.5M485.9 497.6v1.6M486.1 503.4v2.4M486.5 522.5v2.2M493 494v1.7M494.2 503.6v1.2M494 506v1.9M492.9 508.7v1.1M492.5 513.8v1.6M492.9 520.3v2.2M492.9 535.1v1.5M499.5 496.1v0.6M499.3 500.9v2.5M499.9 504.5v0.8M500.4 506.9v2.4M499.4 510.6v0.6M500.8 518.9v0.9M500.4 521.8v1.6M500 524.7v1.4M505.4 494.8v1.1M504.3 498.6v2.2M505 502.3v1.8M505.9 507.8v1.4M505.6 510.3v1.6M505.4 517.4v0.9M505.4 520.5v1.9M505.7 525.9v1M505 534.8v2.1M505.1 537.9v1.2M510.6 495.8v1.9M510.5 501.7v1.3M510.8 520.2v0.7M516.1 498.9v1.1M515.4 505.8v1.7M514.8 509.4v2.1M516.1 513.8v1.3M521.1 494v1.9M520.5 496.7v1.6M520.4 506.4v2M521.5 509.9v1.9M527.6 509.5v1.7M526.5 516.9v1.4M531.9 496.5v0.7M531.2 505.2v1.5M532.4 514v1.4M532.5 519.6v1.9M531.8 510.7v0.7M531.3 529.7v1.7M532.3 532.8v0.6M531.6 536.5v1.7M530.6 540.3v1.7M546.9 502.3v1.1M545.6 507.2v1.9M547.2 513v2.3M546.2 529.2v0.9M553.4 495.7v1.5M552.6 499.6v2.5M552.9 503.5v2M560.3 494v1M558.7 498.1v2.4M559.3 505.1v0.9M559.2 507.4v1.5M559.1 509.6v1.1M560.1 522.7v1.6M559.5 524.7v1.8M559.6 529.1v0.8M559.3 531.4v0.7M559.2 537.1v1.1M564.6 505.3v1.2M564.3 510v1.8M564.2 516.7v1M563.9 523.6v1.7M563.3 526.1v1.2M563.9 531.4v0.8M569.8 505.4v1.2M569.1 510.5v0.7M569.6 517.7v1.2M570.4 528.8v1.2M572.7 494v2.1M574.5 498.2v2.1M572.6 505.5v1.5M574.4 507.6v0.8M573.5 521.1v1.9M573.2 525.4v0.9M576.8 494v1M577.1 496.7v1.6M578 499.6v2.3M576.7 503v1.3M577.6 505.7v2.2M577.7 517.5v1.7M577 520.9v1.8M576.6 528.8v1.9M577 533.9v2.2M578.3 536.7v1.4M581.9 504.7v1.5M581.5 522v2.2M588.2 499.8v1.7M588.4 502.1v0.9M587.4 507.5v2.4M588.6 516.4v1.6M589.1 519.6v0.9M588.3 509.6v1.5M588.3 512.1v1M589.3 517.7v2.4M588.1 532.4v1.4M596 512.5v2.1M595 516.7v1.1M595.8 514.2v1.5M595.4 516.6v1.3M594.9 524.6v1.8M598.8 505.7v1.6M598.7 511.4v1.1M598.8 516.9v0.8M602.9 501.5v0.7M603.3 503.8v0.7M603.9 506v1.8M602.8 510.3v0.9M603 518v1.7M602.9 522.6v2.3M609.8 513.4v2.5M609 519.8v1.7M609.7 534.7v1.3M615.8 506.1v1.3M617.1 510.4v1.5M617 516.4v2.1M617.2 522.2v2.4M622.8 504.2v1M621.9 506.5v1.3M622.9 510.2v1.8M622.6 513.4v2.4M630.9 506.5v2.1M631.3 510.7v1.5M631.2 513.1v2M630.9 520.8v1.5M631.4 525.9v2.4M632 529.1v0.6M638 504.3v0.8M638 509.2v0.8M637.4 516.2v1.2M638.7 523.1v1.8M637.6 529.1v0.6M638 521.5v1.8M637.9 525.3v1.8M642.3 501.1v2.2M642.4 505.4v2.1M642.6 508.7v2.3M642.3 519.9v1.5M642.9 524.9v0.7M642.8 530.2v2.3M641.6 530.6v1.4M649.3 494v1M649.1 501v2.4M648.9 508.1v1.7M649.1 511.8v2.5M648.9 522.1v0.6M648.7 526.8v0.7M648.3 537.3v2.4M648.4 539.7v1.9M654.6 511.2v1.2M654.8 513.5v0.8M662 527.6v1M667.6 503v1.7M667.1 505.9v0.9M674.8 500.1v2M675.1 502.6v1.7M674.1 509.6v2.3M674.5 533.5v2.4M674.5 514.3v1.5M675.5 517.1v0.7M675.1 522.1v2.2M674.3 535.4v0.5M681.6 496.7v2.3M681.2 501.5v2.5M680.6 506v1.9M680.1 509.9v1.4M680.3 516.6v1.2M679.7 520.9v1.3M679.4 513.9v2.3M679.9 517.1v1.8M679.6 522.9v0.8M679.3 528.5v0.7M688.5 494v1.5M688.9 500.9v1.1M687.3 506.8v2.2M688 509.5v2M697.7 494v1.6M697.9 505.6v0.6M698.6 507.7v2.4M698.6 520.3v1M696.8 523.8v1.8M703.7 496.3v0.7M703.2 503.4v1.6M703.8 505.9v1.7M702 510.8v2.1M703.8 521.7v1.7M703.7 526.6v0.9M703 531.6v1.2M712.5 503v1.6M713 505.5v1.2M713.6 507.9v2.2M712.5 516.4v1.2M712.6 524.2v1.9M713.3 529.3v2.3M712.2 532.2v2.3M718.3 509.7v1.3M718.4 515.1v0.8M717 519.4v1.2M717.5 524v1.2M718 536.7v0.6M723.8 494v1.3M723.1 501.3v2.3M724.9 507.7v2.3M724.8 513.5v1.8M724.9 526.6v1.5M723.2 534.2v2.1M724.6 538.7v1.9M724.5 534.6v2M730.1 497.3v0.5M729.7 509.6v2M737.4 495.9v1.8M736.3 501v2.1M736.9 505.6v1.2M736.2 512.9v2M735.9 515.2v0.6M736.4 527.5v1.4M736.9 512.3v1M737.1 522v2.2M737.8 528.8v1.9M736.5 533.6v1.3M737.3 539.4v0.7M742.2 494v2.1M740.4 505.7v2.4M740.3 516.6v2.2M740.9 519.5v2.3M742.1 528.2v1M740.8 535.8v0.5M747.6 510.7v2.2M748.3 513.3v1.1M748.2 521v1M749.3 525.4v1.4M754.5 499.8v1.8M753.1 504v2.5M753.2 509.7v2.3M757.2 502.6v1.9M758.1 504.6v0.6M757.4 509.7v2.3M769 507.8v1.7M768.3 513.5v1M769.2 518.2v1.4M769 523.8v2.2M768 526.4v1.3M774.3 503.8v1.9M774.7 513.3v2.5M775 518v1.1M774.8 529.3v0.6M774.6 526.6v2.2M774.6 534.8v0.7M784.5 494v2.1M784.1 505.1v2.1M783.5 514.5v2.1M782.9 529.6v1.5M783.3 533.4v1.1M783.1 537.3v1.1M794.7 510v1.5M796.3 513.6v0.8M795.8 516v1.9M795 520.3v1M795.7 523v1M794.4 528.8v1.4M795.9 531.5v0.6M794.9 529.5v2.4M795.4 534.2v1.3M801.8 495.5v1.8M801.7 503.6v2.4M800.6 508.9v1.5M801.7 520.7v2M800.9 523.6v1.2M801.2 530.3v1.7M800.7 535.2v1.9M805.8 504.1v0.9M806.9 515.5v0.9M805.2 519v1.4M806.5 524.5v1.9M807 533.9v0.5M805.8 525.8v0.5M812.1 505.7v2.5M819.3 505.3v1.1M820.2 510.8v2M825 500.5v2.1M825.6 503.4v1.6M823.8 506.3v2M824.9 509v0.9M828.7 501v0.6M830.5 530.3v0.9M829.5 522.7v1.7M835.9 503.5v1.3M836.9 513.7v1.4M837.5 529.6v2M840.7 496.1v1.5M840.8 501.8v1.7M839.7 504.7v2.1M839.9 510.4v2.3M840.1 534.8v1.5M841.6 508.9v2.1M841.3 511.9v1.1M839.9 516.6v2M840.7 530.5v2.3M850.2 494v1.2M848.8 512v2M850.1 516.6v0.7M848.7 522.1v0.9M849.9 527.8v1.2M855.5 496.5v1M855.5 506.2v2.1M855.3 511.4v2.2M854.9 534.7v0.7" stroke="#444" stroke-width="1.2" fill="none"/>
<path d="M176.5 529v1.8M173.5 526.4v1.1M164.8 502v3M160.6 525.2v2.5M158.3 515.6v2M165.9 538.1v2.5M163.2 515v1.8M174.6 527.8v2.9M175 542.8v1.8M168.9 510.7v2.9M172.8 515.6v1.5M151.5 536.3v1.6M154.7 537.2v2.4M158.7 517.5v0.6M166 517.4v1.4M153.6 509.6v2.3M179.8 514.3v0.8M178.4 528.9v2.5M158.5 514.2v1.4M180.9 517v1.7M179.4 528.8v1.3M165.1 532.5v1.5M174.3 538.3v0.7M168.8 524.9v1.7M174.4 527.3v1.1M157.5 536.7v2M175.7 514.1v1.9M177.7 532.8v2.3M174.2 511.2v2.7M151 540.5v1M176.5 506.9v1.8M163.5 511.4v2.4M155.5 503.1v2.3M168.5 500.5v0.9M177 505.9v2.3M156.9 508.2v1.9M178.4 542.8v2.3M154.3 510.1v2.9M180.2 524.6v2M174.7 527.9v2.8M196.6 514.2v1.6M198.5 507.4v2.2M195.4 517.8v1.9M197.8 511v2.8M186.9 528.6v1.1M199.8 511v1.9M188.3 503.1v1.7M195 525.6v1M194.4 516.9v0.9M198.1 513.6v2.7M196.2 502.3v2.8M192.6 517.4v0.6M196.7 506.4v1.1M204.1 527.6v2.1M208.9 509.8v2.2M206.9 531.4v3M196.1 523.2v2.6M196.4 541.1v1.3M202.2 515.9v1.3M200.3 541v0.7M188.1 522.6v0.9M192.5 505.3v2.7M187.2 538.8v2.4M192 540.3v1.9M186.5 520.8v0.9M191.6 537.6v2M191.3 518.6v1.5M200.9 521.8v2.9M205 515.9v2.3M197 525.9v1.6M209.8 510.7v1.7M189.5 533.1v1.4M186 527.1v1.8M216.2 501.4v0.9M270.7 538.9v1.1M262.7 515.2v2.8M249.3 501.1v0.6M235.1 527.2v3M239.3 519.3v0.6M221 529.8v2.6M242.1 501.9v2.6M259.1 527.6v3M236.2 511.9v2.4M224.9 534.3v2.1M255.9 527.4v2.3M227.2 522.7v2.3M212.2 536.8v0.8M218 522v0.9M253.7 524.1v1.9M256.8 539.3v3M242.5 500.5v2.4M269.4 518v2M216.8 534.2v2.8M236.6 523.6v2.5M212.4 538.1v2.5M222.8 510.5v2M250.5 511.9v1.3M246.9 510.8v1.8M224.5 538.2v2.4M231 532.6v1M266.1 512.5v2.6M236.7 535.6v1.7M259.5 518.2v0.8M262.5 518v2.5M218.5 529.9v1M256 530.3v2.8M268.2 537.7v0.9M214.3 525.5v2.8M227.9 541.1v1.1M264 505.3v1.5M233.6 530.6v1.8M251.8 528.4v2.1M218 508.6v3M224.4 534.8v0.7M242.1 521.6v1.2M211.8 521.2v1.2M241.6 539.1v2.4M235.9 514.6v1.2M264.8 520.9v1M240.5 536.3v1.5M255.3 518.7v1M256.7 508.4v1.8M212.1 512.2v1.5M253.8 507.9v1.2M255.9 519.9v2.5M254.8 523.3v2.7M225.5 542.4v0.9M247.6 531.8v2.3M220.6 513.7v2.2M251.9 501.1v0.7M260.7 530.7v1.2M257.8 534.3v1.4M250.9 520.6v0.7M259.4 508.6v2.1M221 540.5v2M253.6 523.6v3M253.1 522.7v0.9M239.3 505v2.4M238.6 522v2.7M238 527.2v1.8M236.5 527.1v2M229.8 537.2v2.2M212.2 508.6v1.2M217.2 542v2M267 528.9v2.9M230.4 507.8v1M238.4 502.3v3M219.8 528.4v1.2M251.6 535v2.2M230.8 534.7v2.9M244.4 514v2.9M276.1 527.2v1.2M315.2 506.6v1.5M317.5 514.5v1.9M313.8 523v0.8M316.5 541.4v1.2M309.7 531.7v2.8M314.7 517.9v1.5M308.1 527v0.8M298.3 533.9v1.5M296 521.3v0.9M308.2 518.3v2.6M298.4 533.3v2.1M286.8 513.4v1.9M316.1 501.4v0.7M311.8 542.9v2.4M282 532.1v2.3M310.8 500.1v1M282.3 529.7v1.4M273.6 506.9v3M274.6 539.9v2.7M284.3 530.3v2.7M307.9 521.3v1.4M292.3 500.7v2.9M302.9 521.7v2.8M306.1 506.6v1.2M274.3 527.1v2M288.3 523.6v1.4M287 536.5v3M280.1 534.5v2.9M303.6 538.4v1.1M312.9 515v1.3M291.3 534.2v1.6M303.8 521.7v2.8M310.1 518.7v2.6M274.4 540.4v1.6M295.7 540.7v1M273.7 503.4v0.9M291.7 527.1v2.2M306.7 523.7v1M294.4 505.6v2.5M291.8 519.9v0.6M295.2 515.8v2.6M310.1 531.8v2.7M295.3 535v1.2M293.7 502.3v1.6M306.2 530.7v1.4M295 514.4v1.4M280.1 505v2.7M276.6 509.1v2.8M297.4 503.8v1.5M288 530.7v1.4M289.6 510.7v2.8M294.7 507.6v2.5M300.6 506.3v1.8M297.9 530.7v1.5M291.4 535v1M317.1 514.1v2.7M313.4 535.3v2.7M290.4 541.7v1.8M272.5 530.9v1.5M278.9 521.1v2.6M281.7 506.3v1.5M337.1 537.9v1.2M334 523v1.7M325.4 541.5v1.9M345.4 520.1v2.6M342.7 511.6v1.6M364.1 509.9v1.8M340.2 500.8v2.6M363.3 504.7v1.4M329.8 523.7v2.4M350 541v2.3M328.3 506.5v1.4M341.8 515.2v1.2M323.8 525.1v2.2M331.6 502.1v2.6M328.7 512.5v3M332 530.8v1.2M329.1 517.3v2M347.2 511.5v1.4M342.6 501.4v2M348.7 530.6v0.7M334.3 511.2v0.7M349.4 513v2.9M325.9 527.3v2.8M341.1 513.1v1.7M337.5 540.2v2M345.3 509v1.8M350.3 503.3v0.9M340.7 504.6v3M356.3 518.4v2M321.8 532.2v0.8M330.8 526.4v2.4M336.9 519.1v2.2M331.5 526.9v1.8M324 531.3v2.5M344.1 535.4v2.3M347.6 542.8v2.4M335 513.7v0.7M330.9 537.5v1.9M355.9 517.1v2.4M336.1 521.8v1.5M353.7 501.4v2.4M330.2 530.2v1.1M362.3 510.6v2.7M322.6 522.6v2.2M365.6 531.3v0.9M349.9 526.9v2M347 528.5v0.6M343.1 503.4v2.6M322.5 541v1M348.2 501.8v1.5M352.9 502.4v2.4M353.1 523.3v3M326.7 500.9v2.4M351.8 533.6v2.4M340 541.9v1.6M361.8 512.8v2.6M335.6 531.7v2.3M321.1 525v1.8M327.8 530v1.7M342 542.3v2.3M351.7 502.5v1M370.4 512.2v2.6M399.2 504.6v0.7M401 522v1M389.3 508.5v2M407.4 539.3v1.2M392.9 518.3v0.8M385 535.8v2.9M408.3 538.5v0.7M398 537.5v2M389.4 516v2.6M376.7 539.8v1.1M389.1 527.4v1.7M407.8 508v2.1M408.8 542v2.1M381.2 504.5v1.7M376.3 535.9v2.5M369.2 528.5v2M385.6 527.7v1.3M376.8 526.7v2.3M382 538.9v0.7M374.4 531.6v1.4M384 518.6v1.7M406.3 510.7v1.7M398.7 511.4v1M402.8 507.1v2.3M405.6 539.5v1.9M384.8 515.5v2.5M373.1 510.1v1.7M404.5 519.3v1.2M396.9 539.5v1.1M370.3 535.9v2M386.1 515.7v0.7M368.2 536.2v1.6M408.2 502.1v1.7M379.1 523v2M410.4 522.1v1.6M401.9 510.2v2.3M379 521.1v2.5M387.9 509.2v1.3M375.8 504v1.3M388.9 528.2v1.3M408.7 506.8v1.4M380.7 538.6v2.9M369.1 525.8v2.9M407 511.6v2.3M398.9 538v2.1M389.9 539v2.5M368.4 510.9v2.1M404 541.6v0.6M383.3 508.1v2.6M376.1 519.5v2.6M374.1 504.4v1.7M374.6 521.9v0.9M408 524.9v2.6M393.6 505.1v1.6M368.8 500.1v1M377.3 542.4v1.8M375.3 533.4v0.8M425.2 501.2v2.7M424.4 542.4v2.7M448.7 508.1v1.5M444.4 529.5v1.4M428.4 509.6v2.3M422.5 530.8v2.7M415.6 531.7v2.2M449.2 518.1v2.3M441.4 523.9v1.3M417.7 542.1v2M451.1 532.5v0.7M442.9 532.4v2.5M438.4 520.8v1.5M451 537.9v0.7M448.8 500.6v0.7M419.8 523.8v1.3M427.3 527.8v2.1M428.6 537.4v1.9M420 533.9v1.7M450.3 524.5v1M414.3 518.4v1.4M452.6 518.1v2.1M448.1 518.9v1.8M448.2 523v2.7M430.9 524.6v1.1M441.4 539.3v2.3M427 503.3v2.4M434.7 539.9v1.1M445.4 507.2v2.8M439.3 535.8v2M421.6 516.7v1.2M451.9 517v2.6M425.2 513.8v2.7M438.8 526.9v3M448.6 520.5v1.5M419.8 518.3v3M415.2 534.8v2.8M428.4 540.6v0.7M430.5 507.4v2.8M443.4 540.6v1.5M437.8 500.8v2.2M436.3 530.6v1.5M431.9 506.1v0.9M419.6 527.8v1.7M447.7 512.6v1.4M451.7 527.6v2.5M431 530.6v0.7M421.6 517.2v2.3M437.4 537v1.9M414.8 507.1v2.4M418.7 513.8v0.7M450.7 531.8v2M452.1 501.3v1.6M421.8 502.5v1.6M459.4 522.1v2.7M459.7 541.4v0.8M459.2 501.4v1.4M458.3 509.3v0.6M454.8 534.2v1.8M457.8 535.1v1M457.3 513.9v2.4M454.6 526.4v2.7M460.3 533.1v2.9M458.9 526.2v1.1M454.8 533.9v2M459.6 530.1v2.1M487.4 522.7v1.8M484.9 529.5v3M470.5 505.4v1.7M482.4 523v1.4M485.1 503.9v2.6M489.2 519.6v1M485.6 522.7v2.9M480.2 504.4v0.8M487.9 519.8v1.6M475.3 513.2v2.2M482.5 525.7v1.3M476.4 519.8v3M476.4 500.6v1.9M485.5 508.2v2.2M474.5 530.3v2.6M480 507.3v1.2M476.4 502.7v0.9M476.5 515.4v2.7M482.5 520.8v1.8M482.6 531.2v0.8M481.1 528.8v2.8M482.8 535.8v0.9M489 509.7v2.3M490.8 519.4v1.2M490.1 513.4v1.7M478.3 502.6v0.9M476.2 534.5v1M491 506.9v2.2M484.4 503v2.2M515.7 514.8v1.6M529.4 507.7v2.8M500.1 516v1M518.4 529.3v2.8M504.3 510.3v2.4M536 539.3v2.6M528 530v1.6M527.7 519.1v1.7M533.8 541.5v2.9M520.7 515.5v1M519.2 536.6v0.8M531.1 532.7v1.6M496.7 507.9v2M519.3 521.2v1.5M537.4 537.4v0.7M498.8 520.9v1.3M515.3 518.4v1.2M509 505.4v0.7M506.1 527.2v0.6M493.7 513.3v2.7M492.4 520v0.8M520.1 523.9v2.1M504.4 511.2v2.7M529.8 539.4v2.1M522.5 516.6v2.4M518.7 501.1v1.5M534.6 539.7v1.5M499 520.7v1.9M493.7 524.7v1.8M499.7 534.6v1.5M501.5 512.5v1.3M526.4 534.1v0.7M526 500.3v1.6M529.7 514.4v2.3M507.6 520v2.9M523 518.6v1.6M534.2 521.5v2M527.2 500.5v0.8M500.4 515.8v2.8M500.3 529v0.8M513 513.2v2.2M520.7 526.7v2.5M509 534.8v0.9M515.2 516v2.8M498.3 513.9v1.9M497.1 525.1v0.7M498 522.7v1M505.9 502v0.8M504.7 541.1v2.2M502.5 529v2.8M521.6 515v2.5M527.9 513.8v0.7M502.7 516.9v2.3M526.6 508.5v1.4M507.9 525.6v1.9M496 533.9v2.2M511.6 514.6v2M514.6 533.5v1.9M530.2 523.6v2.3M509.2 516.9v1M550.7 524.7v1.3M547.7 513.7v2.8M558.5 510.9v2.9M552.6 502.9v0.9M554.7 515.6v1M548.7 523.3v1.2M565.1 527.5v2.5M554 502.9v2.6M558.1 532.8v2.2M561.4 519.3v2.3M546.3 534.3v2.6M565.8 502.7v0.6M564.3 521.3v1.9M549.9 539.8v0.7M553.1 534.5v1.3M558.3 517.2v0.9M548.6 506.1v2.7M545.4 502.2v1.3M552.6 537.7v0.8M551.7 509.7v1.5M557.8 528.4v1.4M554 523.9v1.2M550.1 504.2v2.7M556.8 513.3v2.6M554.1 516.6v2.4M553.5 500.8v1.3M557 528.8v1.4M560.6 510.9v1.6M545.9 531.4v1.5M594.3 518v1.9M580.4 504v2.9M570.5 522.4v2.4M569.2 510.5v2.8M569.9 540.3v0.7M588.5 527.8v1.7M585.8 525.6v2M573.8 517.2v1.3M580.1 524.8v1.1M576.8 508.6v1.3M590 507.5v0.8M593.8 514.1v1.6M578.7 530.3v1.2M570.2 501.4v1.7M596.5 518.6v1.2M596.9 520.1v2.6M569.8 536.2v2.5M585.2 522.7v3M577.7 502.1v1.4M567.8 506.7v1.6M596.7 522.5v1.6M595 526v0.6M569.9 513.9v1.4M579.3 531.6v1M588.1 506v1.5M570.7 512.1v3M595.4 542.5v1.5M576.6 542.2v1.4M584.4 542.1v2.3M576.8 522.6v1.8M573.5 533.2v0.9M571.7 512v0.7M574.3 508.9v1.8M593 540.5v2.7M586.1 538.2v1.2M595.5 502.2v2.3M573.2 535v2.8M571.8 538.3v0.9M571 512.6v2.8M592 517.7v2.3M610.5 524.6v2.6M626.1 507.3v2.3M610.1 533.8v0.9M612.6 531.2v2.8M627.2 523v2.3M620.2 528.1v0.9M625.3 506.6v2.2M605.4 503.6v1.6M625.5 536.9v1.3M612 505.7v1.9M609.8 533.5v1.6M615.3 533.2v1.1M615.6 534.9v1.7M612.2 518.4v0.8M620.6 520.8v3M625.6 508v1.4M602.9 540.7v1.3M616.2 508.7v0.7M624.6 535.8v2M604.7 536.9v2.9M616.3 538.3v0.7M611 540.2v2.7M611.3 511.1v1.7M610 531.1v2.2M602.1 537.3v2.4M614.8 536.7v2.9M599.3 511.9v2.1M614.5 538.2v2M599.6 535.2v0.8M619.9 509.5v2.9M605.5 542.2v0.8M600 523.4v1.6M622.9 532.4v2.2M612.8 532.2v1.7M598.9 517.3v2M609.1 516.9v0.9M600.5 505.5v2.6M609.4 538.4v2M605 516.8v2.3M607.2 523.7v0.8M643.5 524.7v2.7M659.4 505.5v2.2M652.7 502.6v1.5M635.9 541.7v1.6M630.4 540.1v2M645 535.9v1.7M651.8 528.5v2.7M641 509.5v2.6M652.5 504.1v2.8M663.3 521.4v1.1M639.6 534v2.2M632.2 522.4v2.8M658.7 505.4v1M632.1 513.4v1.5M638.3 538.8v2M652.5 522.4v1.6M649.5 529.8v1.9M652.3 510v3M650.6 516.6v2.3M636.4 507.1v1.4M654.4 500.3v1.2M654.8 502.5v3M639.2 532.2v1.3M630 505.2v2.3M663.4 525.4v2.1M635.8 529.7v0.6M660 535.1v1.8M662 524.2v1.9M631.2 542v2M653.8 504.3v3M633.4 518v1.1M662.9 519.8v1.7M656 510.5v1.4M637.2 527.3v1.7M644.4 539.9v2.9M652.2 526.8v0.8M649.3 537.3v1.1M632.8 527.8v1.5M635.3 520.9v1.9M658.2 506.6v1.1M643.8 531.1v1.4M642.5 502v0.6M640.9 532.9v1.8M631.9 512.5v2.9M685.2 513.3v2.1M679.1 533.5v2.3M674.9 519.6v3M677.5 527.8v2.1M671.5 504.1v2.1M680.6 522.8v0.8M671.4 540.7v1M683.4 538.3v3M669.9 525.1v1.9M683 513.1v0.9M686.6 531.2v2.3M680.9 541v2.6M673.8 538.1v1.6M676.4 526.8v1.2M669.3 538.6v1.4M669.3 517.3v2.7M672.8 514.6v1.1M667.2 511.8v1.3M678.8 512.4v2.4M673.2 535.3v1.5M678.1 513.4v2.8M672.6 535.6v2.8M691.3 503.3v2.7M671.1 510.8v1.2M683.9 521.4v2.9M671.8 533.5v1.7M667 525.8v0.7M675.9 511.7v1.1M670 536v2.6M672.3 505.6v2.4M668.1 520.7v2.8M675.8 515v1.7M686.1 541.6v2.9M681.9 542.7v1.5M715.5 530.4v1.8M709.5 514.4v2.3M712.2 528.9v1.9M711.4 516.7v2.6M697.6 503v2.8M704.9 500.3v1.2M718.2 510.7v2.9M707.9 512.9v1.5M706 514.8v2.8M714.9 532.2v1.1M703.9 514.6v1.4M710.7 513.1v0.7M697.6 522.4v2.9M716.7 541v2.4M696.3 533.4v1.5M708 503.1v1.2M698.9 532.6v2.8M701.4 525.4v2.6M704.2 518.7v1.6M702.4 515.7v2.6M698.4 527.2v2.2M713.3 535.2v3M697.6 525.4v1.2M705 520.2v2.2M703.4 537.1v2.6M712.9 533.8v2.3M697.6 531.9v2.5M716.6 502.2v1.3M710.9 515.7v1.8M701.7 517.7v1.5M697.8 534.1v1.7M729.3 512.9v2.7M738 504.8v1.9M723.9 517v1.5M738.9 516.6v1.6M728.6 540.2v1.9M721.5 526.3v2M721.8 535.8v2.6M729.9 532.6v2.7M732.9 522.2v2.8M738.3 501.7v1.6M723.6 523.6v2.6M722 501v1.1M735.5 523.9v1.8M735.2 518.4v1.7M727 522.8v0.7M737.8 534.6v3M733.2 523v1.6M726.6 522.9v2.5M734.1 500.7v1.8M736.7 505.9v1.9M731.5 517.3v1M733.5 529.4v1.4M729 506.9v2.9M730.7 504.1v1.8M746.4 527.6v2.6M741.6 504.5v1.9M745 530.7v2.5M748.2 500.9v2.6M747.9 523.4v1.7M742.6 514.3v2M742.5 541.4v1.9M743.2 524.7v1.8M741.6 523.8v2.6M740.5 508.7v2.4M743.6 534.4v0.7M745.3 516.3v2.1M740.8 510.7v1.2M757.8 527.6v1M755.7 502.5v0.9M756.6 522.5v2.2M755.2 533.3v1.9M764.3 508.5v1.2M755.7 502.1v1.6M753 510v1.4M754.8 524.5v1.6M756.6 500.2v1.4M754.6 537.3v2.3M752.4 533.4v1.2M756.8 523.3v0.6M758.8 528.1v2.8M764.6 525.8v2.3M752.1 512.5v0.8M754.6 509.1v1.2M753.3 527.3v0.8M759.3 535.6v1.5M760.9 510.3v2.1M777.2 501.5v2.3M775.2 517.2v2.9M778.7 538.4v2.9M772.4 541.5v3M768.1 516.6v1.2M768.6 512.7v0.6M767.6 536.2v2.7M777.4 506.3v2.9M768.9 522.6v1M776.4 501.6v0.9M770.3 516.5v1.4M771 513.8v2.1M773.3 509.6v2.5M776.1 521.6v2.5M766.9 524.6v2.5M771.5 515.2v2.9M777.6 524.4v2M775.7 507v1.2M771.9 526.4v2M782.6 509.3v1.4M783.9 538v3M786 510.1v1.1M782.9 507.3v1.9M782.6 531.6v2M784.7 541.3v1.3M787.5 506.9v2.5M786.4 513.1v2.4M800.7 542.9v1.9M799.4 515.3v2.8M803.6 522.6v1.4M807.7 531.2v2.1M803.1 522.1v1.4M798.8 518.7v2.4M804.6 535v0.8M796.1 517.1v2M799.8 535.8v0.7M803.8 500.3v1M801.4 528.8v2.5M800.2 513.9v2M795.3 503.9v3M798.8 541.8v1.4M804.9 532.7v1.8M807.5 511.3v1.1M798.7 536.8v2.1M800.8 500.4v2.6M799.9 512v2.4M812 507.1v2.5M816.4 506.2v1.9M813.3 528.8v1.8M813.6 512.8v1.1M814.8 509.2v1.1M814.8 510.8v2.4M813.2 534.2v2.8M816.6 518.9v1.1M812.9 509.2v0.9M813.8 514.7v0.6M833.6 515.7v2.1M828.5 518v2.3M821.1 510.7v2.4M830.6 508.8v1M825.1 513.6v1.3M823 540.3v1M824 539.4v2.3M819.7 516.6v1.1M833.7 525.9v2M828 514.1v2.4M827.2 528.8v0.9M831.4 520.8v2.3M821.6 534.9v2.2M824.2 534v1.5M832.4 508.5v2M823.5 527.2v1.7M819 516v1.7M819.5 504.6v2.7M828.9 501.5v2.4M827.8 506.1v2.7M830.7 507.8v2.2M830.3 537.9v1.4M840.4 541.2v1.5M842.7 520.4v1.9M841.1 508.4v2.8M836.6 502.8v2.1M837.5 537.5v2.8M843.5 506v1.3M839.2 532v2.5M839.2 520.7v1.7M836.9 501.7v1.6M838.4 512.3v2.7M835.5 531.5v0.7M839.5 511.2v1.6M841.5 522.3v2.3M837.8 517.4v2.3M855.1 507.7v2.1M849.3 530.7v2.5M852.8 527v1.4M850.1 518.5v1.4M852.3 542.4v0.8M849.9 533.2v0.7M850.9 530.9v2.2M849.6 501v1.9M857.8 521.8v2.2M856.1 520.8v1M856.5 531v1.6M850.9 502.6v1M854.9 531.3v1.1" stroke="#cfcfcf" stroke-width="1.1" fill="none"/>
<path d="M121 492.8H897" stroke="#444" stroke-width="1"/>
<path d="M121 546.5H151" stroke="#c8c8c8" stroke-width="1.2"/>
<g fill="#e2e2e2" stroke="#505050" stroke-width="1.3" stroke-linejoin="miter">
<path d="M561.4 488l5.3 5.3-5.3 5.3-5.3-5.3z"/>
<path d="M546.1 487.7l5.3 5.3-5.3 5.3-5.3-5.3z"/>
<path d="M577.7 487.7l5.3 5.3-5.3 5.3-5.3-5.3z"/>
<path d="M816.8 487.5l5.3 5.3-5.3 5.3-5.3-5.3z"/>
<path d="M725.1 487.2l5.3 5.3-5.3 5.3-5.3-5.3z"/>
<path d="M217.2 486.6l5.3 5.3-5.3 5.3-5.3-5.3z"/>
<path d="M761.4 486.6l5.3 5.3-5.3 5.3-5.3-5.3z"/>
<path d="M254 486.3l5.3 5.3-5.3 5.3-5.3-5.3z"/>
<path d="M348.8 486.3l5.3 5.3-5.3 5.3-5.3-5.3z"/>
<path d="M484.7 486.3l5.3 5.3-5.3 5.3-5.3-5.3z"/>
<path d="M650.5 486.3l5.3 5.3-5.3 5.3-5.3-5.3z"/>
<path d="M810.2 486.1l5.3 5.3-5.3 5.3-5.3-5.3z"/>
<path d="M162.5 485.7l5.3 5.3-5.3 5.3-5.3-5.3z"/>
<path d="M300.2 485.7l5.3 5.3-5.3 5.3-5.3-5.3z"/>
<path d="M434.7 485.7l5.3 5.3-5.3 5.3-5.3-5.3z"/>
<path d="M187.7 485.4l5.3 5.3-5.3 5.3-5.3-5.3z"/>
<path d="M199.6 484.9l5.3 5.3-5.3 5.3-5.3-5.3z"/>
<path d="M222.5 484.9l5.3 5.3-5.3 5.3-5.3-5.3z"/>
<path d="M249.6 484.9l5.3 5.3-5.3 5.3-5.3-5.3z"/>
<path d="M342.6 484.9l5.3 5.3-5.3 5.3-5.3-5.3z"/>
<path d="M387.9 484.9l5.3 5.3-5.3 5.3-5.3-5.3z"/>
<path d="M446.1 484.9l5.3 5.3-5.3 5.3-5.3-5.3z"/>
<path d="M500.5 484.5l5.3 5.3-5.3 5.3-5.3-5.3z"/>
<path d="M552.3 484.5l5.3 5.3-5.3 5.3-5.3-5.3z"/>
<path d="M529.8 484.2l5.3 5.3-5.3 5.3-5.3-5.3z"/>
<path d="M641.2 484.2l5.3 5.3-5.3 5.3-5.3-5.3z"/>
<path d="M151.9 483.7l5.3 5.3-5.3 5.3-5.3-5.3z"/>
<path d="M259.3 483.5l5.3 5.3-5.3 5.3-5.3-5.3z"/>
<path d="M768.4 483.5l5.3 5.3-5.3 5.3-5.3-5.3z"/>
<path d="M178.9 483.1l5.3 5.3-5.3 5.3-5.3-5.3z"/>
<path d="M756.1 483.1l5.3 5.3-5.3 5.3-5.3-5.3z"/>
<path d="M278.6 482.8l5.3 5.3-5.3 5.3-5.3-5.3z"/>
<path d="M380.4 482.2l5.3 5.3-5.3 5.3-5.3-5.3z"/>
<path d="M427.7 482.2l5.3 5.3-5.3 5.3-5.3-5.3z"/>
<path d="M856.7 482.2l5.3 5.3-5.3 5.3-5.3-5.3z"/>
<path d="M325.6 481.9l5.3 5.3-5.3 5.3-5.3-5.3z"/>
<path d="M632.1 481.9l5.3 5.3-5.3 5.3-5.3-5.3z"/>
<path d="M659.6 481.9l5.3 5.3-5.3 5.3-5.3-5.3z"/>
<path d="M838.2 481.7l5.3 5.3-5.3 5.3-5.3-5.3z"/>
<path d="M853.7 481.7l5.3 5.3-5.3 5.3-5.3-5.3z"/>
<path d="M235.6 481.4l5.3 5.3-5.3 5.3-5.3-5.3z"/>
<path d="M454.9 481.4l5.3 5.3-5.3 5.3-5.3-5.3z"/>
<path d="M229.8 481l5.3 5.3-5.3 5.3-5.3-5.3z"/>
<path d="M354.9 481l5.3 5.3-5.3 5.3-5.3-5.3z"/>
<path d="M392.6 481l5.3 5.3-5.3 5.3-5.3-5.3z"/>
<path d="M616 481l5.3 5.3-5.3 5.3-5.3-5.3z"/>
<path d="M567.5 480.7l5.3 5.3-5.3 5.3-5.3-5.3z"/>
<path d="M288.8 480.5l5.3 5.3-5.3 5.3-5.3-5.3z"/>
<path d="M297.9 480.5l5.3 5.3-5.3 5.3-5.3-5.3z"/>
<path d="M803.2 480.5l5.3 5.3-5.3 5.3-5.3-5.3z"/>
<path d="M472.5 480.1l5.3 5.3-5.3 5.3-5.3-5.3z"/>
<path d="M536.5 480.1l5.3 5.3-5.3 5.3-5.3-5.3z"/>
<path d="M550.9 480.1l5.3 5.3-5.3 5.3-5.3-5.3z"/>
<path d="M711 480.1l5.3 5.3-5.3 5.3-5.3-5.3z"/>
<path d="M206.7 480l5.3 5.3-5.3 5.3-5.3-5.3z"/>
<path d="M404.9 480l5.3 5.3-5.3 5.3-5.3-5.3z"/>
<path d="M560.2 479.6l5.3 5.3-5.3 5.3-5.3-5.3z"/>
<path d="M314.6 479.3l5.3 5.3-5.3 5.3-5.3-5.3z"/>
<path d="M486 479.3l5.3 5.3-5.3 5.3-5.3-5.3z"/>
<path d="M612.5 479.3l5.3 5.3-5.3 5.3-5.3-5.3z"/>
<path d="M253.7 478.7l5.3 5.3-5.3 5.3-5.3-5.3z"/>
<path d="M492.3 478.4l5.3 5.3-5.3 5.3-5.3-5.3z"/>
<path d="M672.5 478l5.3 5.3-5.3 5.3-5.3-5.3z"/>
<path d="M811.6 477.9l5.3 5.3-5.3 5.3-5.3-5.3z"/>
<path d="M697.4 477.2l5.3 5.3-5.3 5.3-5.3-5.3z"/>
<path d="M187 477l5.3 5.3-5.3 5.3-5.3-5.3z"/>
<path d="M388.2 477l5.3 5.3-5.3 5.3-5.3-5.3z"/>
<path d="M653.2 475.7l5.3 5.3-5.3 5.3-5.3-5.3z"/>
<path d="M157.2 475.2l5.3 5.3-5.3 5.3-5.3-5.3z"/>
<path d="M368.1 475.2l5.3 5.3-5.3 5.3-5.3-5.3z"/>
<path d="M860.2 475.2l5.3 5.3-5.3 5.3-5.3-5.3z"/>
<path d="M517.2 474.9l5.3 5.3-5.3 5.3-5.3-5.3z"/>
<path d="M715.4 474.9l5.3 5.3-5.3 5.3-5.3-5.3z"/>
<path d="M742.3 474.9l5.3 5.3-5.3 5.3-5.3-5.3z"/>
<path d="M800.5 474.7l5.3 5.3-5.3 5.3-5.3-5.3z"/>
<path d="M211.6 474.3l5.3 5.3-5.3 5.3-5.3-5.3z"/>
<path d="M404.9 474.3l5.3 5.3-5.3 5.3-5.3-5.3z"/>
<path d="M168 474l5.3 5.3-5.3 5.3-5.3-5.3z"/>
<path d="M507.5 473.6l5.3 5.3-5.3 5.3-5.3-5.3z"/>
<path d="M527.2 473.6l5.3 5.3-5.3 5.3-5.3-5.3z"/>
<path d="M638.2 473.6l5.3 5.3-5.3 5.3-5.3-5.3z"/>
<path d="M671 473.6l5.3 5.3-5.3 5.3-5.3-5.3z"/>
<path d="M174.2 473.1l5.3 5.3-5.3 5.3-5.3-5.3z"/>
<path d="M199.6 473.1l5.3 5.3-5.3 5.3-5.3-5.3z"/>
<path d="M377.7 473.1l5.3 5.3-5.3 5.3-5.3-5.3z"/>
<path d="M229.5 472.2l5.3 5.3-5.3 5.3-5.3-5.3z"/>
<path d="M763.2 472.1l5.3 5.3-5.3 5.3-5.3-5.3z"/>
<path d="M796.1 472.1l5.3 5.3-5.3 5.3-5.3-5.3z"/>
<path d="M447 471.7l5.3 5.3-5.3 5.3-5.3-5.3z"/>
<path d="M458.4 470.8l5.3 5.3-5.3 5.3-5.3-5.3z"/>
<path d="M805.8 470.8l5.3 5.3-5.3 5.3-5.3-5.3z"/>
<path d="M217.2 470.5l5.3 5.3-5.3 5.3-5.3-5.3z"/>
<path d="M646.5 470.5l5.3 5.3-5.3 5.3-5.3-5.3z"/>
<path d="M778.9 470.3l5.3 5.3-5.3 5.3-5.3-5.3z"/>
<path d="M470.7 470.1l5.3 5.3-5.3 5.3-5.3-5.3z"/>
<path d="M339.6 470l5.3 5.3-5.3 5.3-5.3-5.3z"/>
<path d="M836.5 470l5.3 5.3-5.3 5.3-5.3-5.3z"/>
<path d="M858.4 469.4l5.3 5.3-5.3 5.3-5.3-5.3z"/>
<path d="M325.1 469.1l5.3 5.3-5.3 5.3-5.3-5.3z"/>
<path d="M609.6 469.1l5.3 5.3-5.3 5.3-5.3-5.3z"/>
<path d="M585.1 468.7l5.3 5.3-5.3 5.3-5.3-5.3z"/>
<path d="M627.7 468.7l5.3 5.3-5.3 5.3-5.3-5.3z"/>
<path d="M658.8 468.4l5.3 5.3-5.3 5.3-5.3-5.3z"/>
<path d="M159.3 468.2l5.3 5.3-5.3 5.3-5.3-5.3z"/>
<path d="M388.6 468.2l5.3 5.3-5.3 5.3-5.3-5.3z"/>
<path d="M220.4 467l5.3 5.3-5.3 5.3-5.3-5.3z"/>
<path d="M714.9 466.6l5.3 5.3-5.3 5.3-5.3-5.3z"/>
<path d="M400.9 466.5l5.3 5.3-5.3 5.3-5.3-5.3z"/>
<path d="M438.2 466.5l5.3 5.3-5.3 5.3-5.3-5.3z"/>
<path d="M530.9 466.5l5.3 5.3-5.3 5.3-5.3-5.3z"/>
<path d="M440 466.1l5.3 5.3-5.3 5.3-5.3-5.3z"/>
<path d="M697.4 465.6l5.3 5.3-5.3 5.3-5.3-5.3z"/>
<path d="M815.4 465.6l5.3 5.3-5.3 5.3-5.3-5.3z"/>
<path d="M193 465.2l5.3 5.3-5.3 5.3-5.3-5.3z"/>
<path d="M378.6 465.2l5.3 5.3-5.3 5.3-5.3-5.3z"/>
<path d="M676 464.9l5.3 5.3-5.3 5.3-5.3-5.3z"/>
<path d="M290.9 464.7l5.3 5.3-5.3 5.3-5.3-5.3z"/>
<path d="M151.9 464.7l5.3 5.3-5.3 5.3-5.3-5.3z"/>
<path d="M244.7 464.7l5.3 5.3-5.3 5.3-5.3-5.3z"/>
<path d="M763.7 464.5l5.3 5.3-5.3 5.3-5.3-5.3z"/>
<path d="M275.1 463.8l5.3 5.3-5.3 5.3-5.3-5.3z"/>
<path d="M166.7 463.8l5.3 5.3-5.3 5.3-5.3-5.3z"/>
<path d="M602.6 463.8l5.3 5.3-5.3 5.3-5.3-5.3z"/>
<path d="M726 463.8l5.3 5.3-5.3 5.3-5.3-5.3z"/>
<path d="M651.8 463.5l5.3 5.3-5.3 5.3-5.3-5.3z"/>
<path d="M736.5 463.1l5.3 5.3-5.3 5.3-5.3-5.3z"/>
<path d="M236.5 462.1l5.3 5.3-5.3 5.3-5.3-5.3z"/>
<path d="M507.5 462.1l5.3 5.3-5.3 5.3-5.3-5.3z"/>
<path d="M319.8 461.7l5.3 5.3-5.3 5.3-5.3-5.3z"/>
<path d="M431.8 461.7l5.3 5.3-5.3 5.3-5.3-5.3z"/>
<path d="M776.8 461l5.3 5.3-5.3 5.3-5.3-5.3z"/>
<path d="M513.7 460.8l5.3 5.3-5.3 5.3-5.3-5.3z"/>
<path d="M283 460.7l5.3 5.3-5.3 5.3-5.3-5.3z"/>
<path d="M501 460.5l5.3 5.3-5.3 5.3-5.3-5.3z"/>
<path d="M743.5 460.5l5.3 5.3-5.3 5.3-5.3-5.3z"/>
<path d="M805.8 460.3l5.3 5.3-5.3 5.3-5.3-5.3z"/>
<path d="M829.1 460.3l5.3 5.3-5.3 5.3-5.3-5.3z"/>
<path d="M266.7 460l5.3 5.3-5.3 5.3-5.3-5.3z"/>
<path d="M598.8 459.6l5.3 5.3-5.3 5.3-5.3-5.3z"/>
<path d="M393.2 459.4l5.3 5.3-5.3 5.3-5.3-5.3z"/>
<path d="M428.6 459.4l5.3 5.3-5.3 5.3-5.3-5.3z"/>
<path d="M485.3 459.1l5.3 5.3-5.3 5.3-5.3-5.3z"/>
<path d="M864.6 458.6l5.3 5.3-5.3 5.3-5.3-5.3z"/>
<path d="M601.4 458.2l5.3 5.3-5.3 5.3-5.3-5.3z"/>
<path d="M766.7 457.5l5.3 5.3-5.3 5.3-5.3-5.3z"/>
<path d="M737.9 457.3l5.3 5.3-5.3 5.3-5.3-5.3z"/>
<path d="M533 454.3l5.3 5.3-5.3 5.3-5.3-5.3z"/>
<path d="M310.7 454.2l5.3 5.3-5.3 5.3-5.3-5.3z"/>
<path d="M280 450.7l5.3 5.3-5.3 5.3-5.3-5.3z"/>
<path d="M361.6 450.7l5.3 5.3-5.3 5.3-5.3-5.3z"/>
<path d="M636 450.3l5.3 5.3-5.3 5.3-5.3-5.3z"/>
<path d="M519.3 448.6l5.3 5.3-5.3 5.3-5.3-5.3z"/>
<path d="M675.4 448l5.3 5.3-5.3 5.3-5.3-5.3z"/>
<path d="M681.2 448l5.3 5.3-5.3 5.3-5.3-5.3z"/>
<path d="M220.4 447.2l5.3 5.3-5.3 5.3-5.3-5.3z"/>
<path d="M328.1 447.2l5.3 5.3-5.3 5.3-5.3-5.3z"/>
<path d="M433.9 447.2l5.3 5.3-5.3 5.3-5.3-5.3z"/>
<path d="M458.9 446.8l5.3 5.3-5.3 5.3-5.3-5.3z"/>
<path d="M421.6 446.3l5.3 5.3-5.3 5.3-5.3-5.3z"/>
<path d="M628.6 445.9l5.3 5.3-5.3 5.3-5.3-5.3z"/>
<path d="M480 445.4l5.3 5.3-5.3 5.3-5.3-5.3z"/>
<path d="M790.4 445.2l5.3 5.3-5.3 5.3-5.3-5.3z"/>
<path d="M492.6 445.1l5.3 5.3-5.3 5.3-5.3-5.3z"/>
<path d="M271.2 444.9l5.3 5.3-5.3 5.3-5.3-5.3z"/>
<path d="M284.2 444.2l5.3 5.3-5.3 5.3-5.3-5.3z"/>
<path d="M506.7 444.2l5.3 5.3-5.3 5.3-5.3-5.3z"/>
<path d="M247.4 443.3l5.3 5.3-5.3 5.3-5.3-5.3z"/>
<path d="M400.2 441l5.3 5.3-5.3 5.3-5.3-5.3z"/>
<path d="M727.2 441l5.3 5.3-5.3 5.3-5.3-5.3z"/>
<path d="M698.2 440.7l5.3 5.3-5.3 5.3-5.3-5.3z"/>
<path d="M854.4 439.6l5.3 5.3-5.3 5.3-5.3-5.3z"/>
<path d="M210.2 438l5.3 5.3-5.3 5.3-5.3-5.3z"/>
<path d="M260.7 438l5.3 5.3-5.3 5.3-5.3-5.3z"/>
<path d="M174.2 437.9l5.3 5.3-5.3 5.3-5.3-5.3z"/>
<path d="M768.1 437.3l5.3 5.3-5.3 5.3-5.3-5.3z"/>
<path d="M796.5 436.5l5.3 5.3-5.3 5.3-5.3-5.3z"/>
<path d="M497.9 436.3l5.3 5.3-5.3 5.3-5.3-5.3z"/>
<path d="M193.5 435.4l5.3 5.3-5.3 5.3-5.3-5.3z"/>
<path d="M587.9 435.4l5.3 5.3-5.3 5.3-5.3-5.3z"/>
<path d="M403.7 435.1l5.3 5.3-5.3 5.3-5.3-5.3z"/>
<path d="M744.7 431.7l5.3 5.3-5.3 5.3-5.3-5.3z"/>
<path d="M744.7 431.5l5.3 5.3-5.3 5.3-5.3-5.3z"/>
<path d="M150.9 430.8l5.3 5.3-5.3 5.3-5.3-5.3z"/>
<path d="M315.4 430.7l5.3 5.3-5.3 5.3-5.3-5.3z"/>
<path d="M628.2 429.8l5.3 5.3-5.3 5.3-5.3-5.3z"/>
<path d="M796.5 427.3l5.3 5.3-5.3 5.3-5.3-5.3z"/>
<path d="M498.8 424.5l5.3 5.3-5.3 5.3-5.3-5.3z"/>
<path d="M563.2 424.3l5.3 5.3-5.3 5.3-5.3-5.3z"/>
<path d="M737.7 424l5.3 5.3-5.3 5.3-5.3-5.3z"/>
<path d="M730.7 423.5l5.3 5.3-5.3 5.3-5.3-5.3z"/>
<path d="M247 422.4l5.3 5.3-5.3 5.3-5.3-5.3z"/>
<path d="M854.9 422.4l5.3 5.3-5.3 5.3-5.3-5.3z"/>
<path d="M257.2 421.4l5.3 5.3-5.3 5.3-5.3-5.3z"/>
<path d="M208.9 419.3l5.3 5.3-5.3 5.3-5.3-5.3z"/>
<path d="M480.4 417.3l5.3 5.3-5.3 5.3-5.3-5.3z"/>
<path d="M626.3 416.5l5.3 5.3-5.3 5.3-5.3-5.3z"/>
<path d="M362.8 416.1l5.3 5.3-5.3 5.3-5.3-5.3z"/>
<path d="M807.5 415.5l5.3 5.3-5.3 5.3-5.3-5.3z"/>
<path d="M854.9 414.5l5.3 5.3-5.3 5.3-5.3-5.3z"/>
<path d="M796.5 413.5l5.3 5.3-5.3 5.3-5.3-5.3z"/>
<path d="M814.9 408.9l5.3 5.3-5.3 5.3-5.3-5.3z"/>
<path d="M826.3 406.1l5.3 5.3-5.3 5.3-5.3-5.3z"/>
<path d="M478.6 405.6l5.3 5.3-5.3 5.3-5.3-5.3z"/>
<path d="M643 405.6l5.3 5.3-5.3 5.3-5.3-5.3z"/>
<path d="M260.2 405.2l5.3 5.3-5.3 5.3-5.3-5.3z"/>
<path d="M566.7 404.7l5.3 5.3-5.3 5.3-5.3-5.3z"/>
<path d="M716 404.3l5.3 5.3-5.3 5.3-5.3-5.3z"/>
<path d="M748.6 403.6l5.3 5.3-5.3 5.3-5.3-5.3z"/>
<path d="M623.3 402.1l5.3 5.3-5.3 5.3-5.3-5.3z"/>
<path d="M735.6 401.2l5.3 5.3-5.3 5.3-5.3-5.3z"/>
<path d="M304.4 400.8l5.3 5.3-5.3 5.3-5.3-5.3z"/>
<path d="M874.2 399.8l5.3 5.3-5.3 5.3-5.3-5.3z"/>
<path d="M157.5 398.2l5.3 5.3-5.3 5.3-5.3-5.3z"/>
<path d="M381.2 395.6l5.3 5.3-5.3 5.3-5.3-5.3z"/>
<path d="M628.9 395.4l5.3 5.3-5.3 5.3-5.3-5.3z"/>
<path d="M377.2 394.7l5.3 5.3-5.3 5.3-5.3-5.3z"/>
<path d="M802.6 387l5.3 5.3-5.3 5.3-5.3-5.3z"/>
<path d="M607 386.8l5.3 5.3-5.3 5.3-5.3-5.3z"/>
<path d="M168.4 381.5l5.3 5.3-5.3 5.3-5.3-5.3z"/>
<path d="M160.7 380.7l5.3 5.3-5.3 5.3-5.3-5.3z"/>
<path d="M268.9 380.3l5.3 5.3-5.3 5.3-5.3-5.3z"/>
<path d="M707.9 380.1l5.3 5.3-5.3 5.3-5.3-5.3z"/>
<path d="M260.5 377l5.3 5.3-5.3 5.3-5.3-5.3z"/>
<path d="M474.2 376.2l5.3 5.3-5.3 5.3-5.3-5.3z"/>
<path d="M260.5 374l5.3 5.3-5.3 5.3-5.3-5.3z"/>
<path d="M862.3 373.3l5.3 5.3-5.3 5.3-5.3-5.3z"/>
<path d="M655.8 372.3l5.3 5.3-5.3 5.3-5.3-5.3z"/>
<path d="M315.4 371.5l5.3 5.3-5.3 5.3-5.3-5.3z"/>
<path d="M527.2 359l5.3 5.3-5.3 5.3-5.3-5.3z"/>
<path d="M486.5 355.2l5.3 5.3-5.3 5.3-5.3-5.3z"/>
<path d="M174.2 328l5.3 5.3-5.3 5.3-5.3-5.3z"/>
<path d="M225.4 322.8l5.3 5.3-5.3 5.3-5.3-5.3z"/>
<path d="M344.9 322.8l5.3 5.3-5.3 5.3-5.3-5.3z"/>
<path d="M283.9 314l5.3 5.3-5.3 5.3-5.3-5.3z"/>
<path d="M629.5 302.8l5.3 5.3-5.3 5.3-5.3-5.3z"/>
<path d="M658.9 298.4l5.3 5.3-5.3 5.3-5.3-5.3z"/>
<path d="M588.2 296.5l5.3 5.3-5.3 5.3-5.3-5.3z"/>
<path d="M738.8 296.5l5.3 5.3-5.3 5.3-5.3-5.3z"/>
<path d="M453.5 258l5.3 5.3-5.3 5.3-5.3-5.3z"/>
<path d="M417.6 90.7l5.3 5.3-5.3 5.3-5.3-5.3z"/>
</g>
<path d="M174.2 333.3h0M225.4 328.1h0M283.9 319.3h0M160.7 386h0M168.4 386.8h0M157.5 403.5h0M260.5 379.3h0M260.5 382.3h0M268.9 385.6h0M260.2 410.5h0M208.9 424.6h0M247 427.7h0M257.2 426.7h0M150.9 436.1h0M174.2 443.2h0M193.5 440.7h0M210.2 443.3h0M220.4 452.5h0M260.7 443.3h0M247.4 448.6h0M271.2 450.2h0M284.2 449.5h0M280 456h0M266.7 465.3h0M275.1 469.1h0M283 466h0M290.9 470h0M288.8 485.8h0M278.6 488.1h0M297.9 485.8h0M151.9 470h0M159.3 473.5h0M166.7 469.1h0M157.2 480.5h0M168 479.3h0M174.2 478.4h0M151.9 489h0M162.5 491h0M178.9 488.4h0M187 482.3h0M193 470.5h0M187.7 490.7h0M199.6 478.4h0M199.6 490.2h0M206.7 485.3h0M211.6 479.6h0M220.4 472.3h0M217.2 475.8h0M229.5 477.5h0M236.5 467.4h0M244.7 470h0M235.6 486.7h0M229.8 486.3h0M222.5 490.2h0M217.2 491.9h0M253.7 484h0M259.3 488.8h0M254 491.6h0M249.6 490.2h0M344.9 328.1h0M315.4 376.8h0M304.4 406.1h0M377.2 400h0M381.2 400.9h0M362.8 421.4h0M315.4 436h0M403.7 440.4h0M328.1 452.5h0M310.7 459.5h0M319.8 467h0M325.1 474.4h0M314.6 484.6h0M325.6 487.2h0M300.2 491h0M339.6 475.3h0M361.6 456h0M368.1 480.5h0M354.9 486.3h0M348.8 491.6h0M342.6 490.2h0M378.6 470.5h0M377.7 478.4h0M380.4 487.5h0M388.6 473.5h0M393.2 464.7h0M400.9 471.8h0M400.2 446.3h0M404.9 479.6h0M404.9 485.3h0M392.6 486.3h0M387.9 490.2h0M388.2 482.3h0M421.6 451.6h0M433.9 452.5h0M428.6 464.7h0M431.8 467h0M438.2 471.8h0M447 477h0M427.7 487.5h0M434.7 491h0M446.1 490.2h0M417.6 96h0M453.5 263.3h0M588.2 301.8h0M486.5 360.5h0M527.2 364.3h0M474.2 381.5h0M478.6 410.9h0M480.4 422.6h0M498.8 429.8h0M497.9 441.6h0M566.7 410h0M563.2 429.6h0M587.9 440.7h0M458.9 452.1h0M480 450.7h0M492.6 450.4h0M506.7 449.5h0M519.3 453.9h0M533 459.6h0M485.3 464.4h0M501 465.8h0M507.5 467.4h0M513.7 466.1h0M530.9 471.8h0M458.4 476.1h0M470.7 475.4h0M507.5 478.9h0M517.2 480.2h0M527.2 478.9h0M585.1 474h0M598.8 464.9h0M454.9 486.7h0M472.5 485.4h0M486 484.6h0M492.3 483.7h0M500.5 489.8h0M484.7 491.6h0M529.8 489.5h0M536.5 485.4h0M546.1 493h0M550.9 485.4h0M552.3 489.8h0M560.2 484.9h0M561.4 493.3h0M567.5 486h0M577.7 493h0M440 471.4h0M629.5 308.1h0M658.9 303.7h0M738.8 301.8h0M655.8 377.6h0M607 392.1h0M628.9 400.7h0M623.3 407.4h0M643 410.9h0M626.3 421.8h0M628.2 435.1h0M628.6 451.2h0M636 455.6h0M707.9 385.4h0M716 409.6h0M735.6 406.5h0M748.6 408.9h0M730.7 428.8h0M737.7 429.3h0M744.7 436.8h0M727.2 446.3h0M698.2 446h0M675.4 453.3h0M681.2 453.3h0M601.4 463.5h0M602.6 469.1h0M609.6 474.4h0M612.5 484.6h0M616 486.3h0M627.7 474h0M638.2 478.9h0M632.1 487.2h0M641.2 489.5h0M646.5 475.8h0M651.8 468.8h0M658.8 473.7h0M653.2 481h0M659.6 487.2h0M650.5 491.6h0M676 470.2h0M671 478.9h0M672.5 483.3h0M697.4 470.9h0M697.4 482.5h0M714.9 471.9h0M715.4 480.2h0M711 485.4h0M726 469.1h0M725.1 492.5h0M737.9 462.6h0M736.5 468.4h0M743.5 465.8h0M742.3 480.2h0M862.3 378.6h0M802.6 392.3h0M874.2 405.1h0M826.3 411.4h0M814.9 414.2h0M796.5 418.8h0M807.5 420.8h0M854.9 419.8h0M854.9 427.7h0M796.5 432.6h0M796.5 441.8h0M790.4 450.5h0M744.7 437h0M768.1 442.6h0M854.4 444.9h0M864.6 463.9h0M766.7 462.8h0M776.8 466.3h0M763.7 469.8h0M778.9 475.6h0M763.2 477.4h0M805.8 465.6h0M815.4 470.9h0M805.8 476.1h0M796.1 477.4h0M800.5 480h0M811.6 483.2h0M803.2 485.8h0M829.1 465.6h0M836.5 475.3h0M838.2 487h0M810.2 491.4h0M816.8 492.8h0M768.4 488.8h0M761.4 491.9h0M756.1 488.4h0M860.2 480.5h0M858.4 474.7h0M856.7 487.5h0M853.7 487h0" stroke="#333" stroke-width="2" stroke-linecap="round" fill="none"/>
<path d="M627 253.5H633.2V291.5H636.2L630.1 298L624 291.5H627Z" fill="#6b6b6b"/>
<g stroke="#7a7a7a" stroke-width="1.3" fill="none">
<path d="M121 98V546"/>
<path d="M112.3 98H121M112.3 135.2H121M112.3 172.5H121M112.3 209.8H121M112.3 247H121M112.3 284.2H121M112.3 321.5H121M112.3 358.8H121M112.3 396H121M112.3 433.2H121M112.3 470.5H121M112.3 507.8H121M112.3 545H121"/>
<path d="M150.5 575V566.4H895V575"/>
<path d="M211.3 566.4V575M271.1 566.4V575M319.4 566.4V575M366.7 566.4V575M411.5 566.4V575M453.3 566.4V575M491.5 566.4V575M528.3 566.4V575M562.5 566.4V575M595.8 566.4V575M629.5 566.4V575M666.8 566.4V575M695.8 566.4V575M722.6 566.4V575M741.4 566.4V575M763.2 566.4V575M784 566.4V575M802.5 566.4V575M817.5 566.4V575M836.8 566.4V575M848.8 566.4V575M858.6 566.4V575"/>
</g>
<g font-family="'Liberation Sans',Arial,Helvetica,sans-serif" fill="#111">
<g font-size="14.4" text-anchor="end">
<text x="105.3" y="104.1">39</text>
<text x="105.3" y="141.3">36</text>
<text x="105.3" y="178.6">33</text>
<text x="105.3" y="215.8">30</text>
<text x="105.3" y="253.1">27</text>
<text x="105.3" y="290.4">24</text>
<text x="105.3" y="327.6">21</text>
<text x="105.3" y="364.9">18</text>
<text x="105.3" y="402.1">15</text>
<text x="105.3" y="439.4">12</text>
<text x="105.3" y="476.6">9</text>
<text x="105.3" y="513.9">6</text>
<text x="105.3" y="551.1">3</text>
</g>
<text font-size="15.1" text-anchor="middle" transform="translate(73 324) rotate(-90)">–log10 (p)</text>
<g font-size="14.4" text-anchor="end">
<text transform="translate(183.9 587) rotate(-45)">1</text>
<text transform="translate(244.2 587) rotate(-45)">2</text>
<text transform="translate(298.2 587) rotate(-45)">3</text>
<text transform="translate(346 587) rotate(-45)">4</text>
<text transform="translate(392.1 587) rotate(-45)">5</text>
<text transform="translate(435.4 587) rotate(-45)">6</text>
<text transform="translate(475.4 587) rotate(-45)">7</text>
<text transform="translate(512.9 587) rotate(-45)">8</text>
<text transform="translate(548.4 587) rotate(-45)">9</text>
<text transform="translate(582.1 587) rotate(-45)">10</text>
<text transform="translate(615.6 587) rotate(-45)">11</text>
<text transform="translate(651.1 587) rotate(-45)">12</text>
<text transform="translate(684.3 587) rotate(-45)">13</text>
<text transform="translate(712.2 587) rotate(-45)">14</text>
<text transform="translate(735 587) rotate(-45)">15</text>
<text transform="translate(755.3 587) rotate(-45)">16</text>
<text transform="translate(776.6 587) rotate(-45)">17</text>
<text transform="translate(796.2 587) rotate(-45)">18</text>
<text transform="translate(813 587) rotate(-45)">19</text>
<text transform="translate(831.1 587) rotate(-45)">20</text>
<text transform="translate(847 587) rotate(-45)">21</text>
<text transform="translate(862.4 587) rotate(-45)">22</text>
<text transform="translate(881.8 587) rotate(-45)">x</text>
</g>
<g font-weight="700" fill="#000">
<text font-size="22.6" text-anchor="middle" x="509.2" y="46">SZ Working Group of the Psychiatric Genetics Consortium GWAS</text>
<text font-size="22.6" text-anchor="middle" x="509" y="74.6">of 76,755 persons with SZ and 243,649 control individuals.</text>
<text font-size="23" x="435.4" y="112.7">MHC locus</text>
<text font-size="22.9" x="559.6" y="239.5">CACNA1c</text>
<text font-size="22.4" x="125.4" y="322.1">Mir 137</text>
</g></g>
</svg>
<div class="cap">
<div class="l"><b>Figure 3–2</b> Example of a Manhattan plot for a genomewide association study. The x-axis shows loci across</div>
<div class="l">the genome, organized by chromosome. The y-axis shows the <i>p</i>-value for association between locus and</div>
<div class="l">disease at each locus. The generally accepted threshold for genomewide significance is 5 × 10-8, if only</div>
<div class="l">one phenotype is analyzed. More extreme <i>p</i>-values may be required for analysis of multiple phenotypes in</div>
<div class="l">the same population. <span class="s">(Reproduced with permission from Trubetskoy V, Panagiotaropoulou G, Awasthi S, Braun A,</span></div>
<div class="l s">Kraft J, Skarabis N et al: Mapping genomic loci implicates genes and synaptic biology in schizophrenia. <i>Nature</i>. 2022</div>
<div class="l s last">Apr;604(7906):502–508.)</div>
</div>
</body></html>
